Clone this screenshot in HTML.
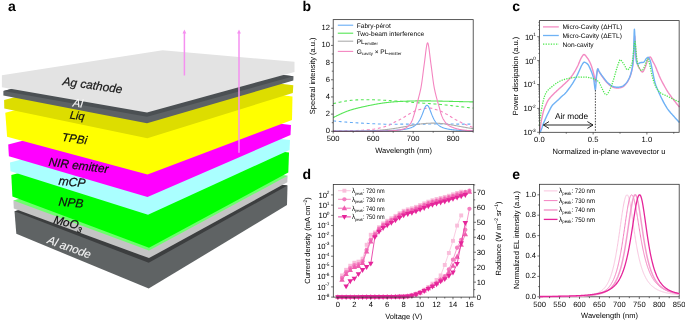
<!DOCTYPE html>
<html><head><meta charset="utf-8"><style>
html,body{margin:0;padding:0;background:#fff;}
svg{display:block;font-family:"Liberation Sans", sans-serif;will-change:transform;text-rendering:geometricPrecision;}
</style></head><body>
<svg xmlns="http://www.w3.org/2000/svg" width="685" height="320" viewBox="0 0 685 320">
<rect width="685" height="320" fill="#fff"/>
<polygon points="14.5,211.3 168.61,171.23 287.5,185.5 287,205 148.7,288.6 16.3,233.8" fill="#5f6364"/>
<polygon points="14.5,211.3 168.61,171.23 287.5,185.5 148.7,262.8" fill="#3c3e3f"/>
<polygon points="13.4,200.6 165.25,161.12 287.6,175.8 287.3,182.3 149,258.1 13.8,208.6" fill="#c4c4c4"/>
<polygon points="13.4,200.6 165.25,161.12 287.6,175.8 149,250.5" fill="#6cff6c"/>
<polygon points="11.3,175 158.21,136.8 289,152.5 288.3,172.6 149,247.8 12.4,196.6" fill="#00ff00"/>
<polygon points="10,162.5 157.63,124.12 290,140 289.5,150 148,214.8 10.5,171.3" fill="#aaffff"/>
<polygon points="8.2,144.5 148.82,107.94 291,125 290.5,135 147.5,197 8.9,156.3" fill="#ff00ff"/>
<polygon points="5.3,112.8 138.89,78.07 292.5,96.5 292,120 147.5,174.5 7.1,136.8" fill="#ffff00"/>
<polygon points="4.1,100 134.11,66.2 293.3,85.3 292.8,93 147.3,138.3 4.3,108.5" fill="#dddd00"/>
<polygon points="3.4,91 133.69,57.12 293.5,76.3 293.3,80.5 147,123.2 3.4,95.5" fill="#5d6265"/>
<polygon points="3.4,91 133.69,57.12 293.5,76.3 147,116.8" fill="#4b5053"/>
<polygon points="1.9,75.3 162.6,50.2 294.5,61.8 294.5,72 147,112.5 1.9,87.3" fill="#e3e3e3"/>
<text transform="translate(62.2,85.1) rotate(7.9)" font-size="11.9" font-style="italic" fill="#1a1a1a" stroke="#1a1a1a" stroke-width="0.22">Ag cathode</text>
<text transform="translate(72.5,106.3) rotate(7.5)" font-size="11.2" font-style="italic" fill="#f8f8f8" stroke="#f8f8f8" stroke-width="0.12">Al</text>
<text transform="translate(69.4,118.5) rotate(7)" font-size="11" font-style="italic" fill="#111" stroke="#111" stroke-width="0.22">Liq</text>
<text transform="translate(61.6,140.7) rotate(8.5)" font-size="11.6" font-style="italic" fill="#111" stroke="#111" stroke-width="0.22">TPBi</text>
<text transform="translate(48.2,165.8) rotate(7)" font-size="11.9" font-style="italic" fill="#111" stroke="#111" stroke-width="0.22">NIR emitter</text>
<text transform="translate(58.2,184.8) rotate(5.5)" font-size="12.2" font-style="italic" fill="#111" stroke="#111" stroke-width="0.22">mCP</text>
<text transform="translate(58.2,205.5) rotate(5.5)" font-size="12.1" font-style="italic" fill="#111" stroke="#111" stroke-width="0.22">NPB</text>
<text transform="translate(52.9,223.2) rotate(13.5)" font-size="11.7" font-style="italic" fill="#111" stroke="#111" stroke-width="0.22">MoO<tspan font-size="7.8" dy="3.0">3</tspan></text>
<text transform="translate(46.4,243) rotate(20)" font-size="11.6" font-style="italic" fill="#f4f4f4" stroke="#f4f4f4" stroke-width="0.1">Al anode</text>
<line x1="184.4" y1="75.5" x2="184.4" y2="32" stroke="#f590f0" stroke-width="1.5"/>
<polygon points="184.4,29.6 182.5,33.4 186.3,33.4" fill="#f590f0"/>
<line x1="239" y1="152.8" x2="239" y2="32" stroke="#f590f0" stroke-width="1.5"/>
<polygon points="239,29.6 237.1,33.4 240.9,33.4" fill="#f590f0"/>
<text x="8" y="10.7" font-size="14" font-weight="bold">a</text>
<text x="302.6" y="10.5" font-size="14" font-weight="bold">b</text>
<path d="M333.2,103.64L333.6,103.55L334,103.46L334.4,103.36L334.8,103.27L335.2,103.18L335.6,103.09L336,103L336.4,102.91L336.8,102.82L337.2,102.73L337.6,102.64L338,102.55L338.4,102.46L338.8,102.37L339.2,102.29L339.6,102.2L340,102.12L340.4,102.03L340.8,101.95L341.2,101.87L341.6,101.79L342,101.71L342.4,101.63L342.8,101.55L343.2,101.48L343.6,101.4L344,101.33L344.4,101.26L344.8,101.19L345.2,101.12L345.6,101.05L346,100.99L346.4,100.93L346.8,100.86L347.2,100.81L347.6,100.75L348,100.69L348.4,100.64L348.8,100.59L349.2,100.54L349.6,100.49L350,100.44L350.4,100.4L350.8,100.35L351.2,100.31L351.6,100.27L352,100.23L352.4,100.2L352.8,100.16L353.2,100.13L353.6,100.1L354,100.07L354.4,100.04L354.8,100.01L355.2,99.98L355.6,99.96L356,99.93L356.4,99.91L356.8,99.89L357.2,99.87L357.6,99.85L358,99.83L358.4,99.82L358.8,99.8L359.2,99.79L359.6,99.78L360,99.76L360.4,99.75L360.8,99.74L361.2,99.73L361.6,99.73L362,99.72L362.4,99.71L362.8,99.71L363.2,99.7L363.6,99.7L364,99.69L364.4,99.69L364.8,99.69L365.2,99.69L365.6,99.69L366,99.69L366.4,99.69L366.8,99.69L367.2,99.69L367.6,99.7L368,99.7L368.4,99.7L368.8,99.71L369.2,99.71L369.6,99.72L370,99.72L370.4,99.73L370.8,99.74L371.2,99.74L371.6,99.75L372,99.76L372.4,99.77L372.8,99.78L373.2,99.79L373.6,99.8L374,99.81L374.4,99.82L374.8,99.84L375.2,99.85L375.6,99.86L376,99.88L376.4,99.89L376.8,99.91L377.2,99.92L377.6,99.94L378,99.95L378.4,99.97L378.8,99.99L379.2,100L379.6,100.02L380,100.04L380.4,100.06L380.8,100.08L381.2,100.09L381.6,100.11L382,100.13L382.4,100.15L382.8,100.18L383.2,100.2L383.6,100.22L384,100.24L384.4,100.26L384.8,100.28L385.2,100.31L385.6,100.33L386,100.35L386.4,100.38L386.8,100.4L387.2,100.42L387.6,100.45L388,100.47L388.4,100.5L388.8,100.52L389.2,100.55L389.6,100.57L390,100.6L390.4,100.63L390.8,100.65L391.2,100.68L391.6,100.71L392,100.73L392.4,100.76L392.8,100.79L393.2,100.81L393.6,100.84L394,100.87L394.4,100.9L394.8,100.93L395.2,100.96L395.6,100.99L396,101.02L396.4,101.04L396.8,101.07L397.2,101.1L397.6,101.13L398,101.17L398.4,101.2L398.8,101.23L399.2,101.26L399.6,101.29L400,101.32L400.4,101.35L400.8,101.38L401.2,101.42L401.6,101.45L402,101.48L402.4,101.51L402.8,101.55L403.2,101.58L403.6,101.61L404,101.65L404.4,101.68L404.8,101.71L405.2,101.75L405.6,101.78L406,101.81L406.4,101.85L406.8,101.88L407.2,101.91L407.6,101.95L408,101.98L408.4,102.02L408.8,102.05L409.2,102.08L409.6,102.12L410,102.15L410.4,102.18L410.8,102.22L411.2,102.25L411.6,102.29L412,102.32L412.4,102.35L412.8,102.39L413.2,102.42L413.6,102.45L414,102.48L414.4,102.52L414.8,102.55L415.2,102.58L415.6,102.61L416,102.65L416.4,102.68L416.8,102.71L417.2,102.74L417.6,102.77L418,102.8L418.4,102.83L418.8,102.86L419.2,102.89L419.6,102.92L420,102.95L420.4,102.98L420.8,103.01L421.2,103.04L421.6,103.07L422,103.1L422.4,103.12L422.8,103.15L423.2,103.18L423.6,103.21L424,103.23L424.4,103.26L424.8,103.29L425.2,103.32L425.6,103.34L426,103.37L426.4,103.4L426.8,103.42L427.2,103.45L427.6,103.48L428,103.5L428.4,103.53L428.8,103.56L429.2,103.58L429.6,103.61L430,103.64L430.4,103.67L430.8,103.69L431.2,103.72L431.6,103.75L432,103.78L432.4,103.81L432.8,103.83L433.2,103.86L433.6,103.89L434,103.92L434.4,103.95L434.8,103.98L435.2,104.01L435.6,104.04L436,104.07L436.4,104.11L436.8,104.14L437.2,104.17L437.6,104.2L438,104.24L438.4,104.27L438.8,104.31L439.2,104.34L439.6,104.38L440,104.41L440.4,104.45L440.8,104.49L441.2,104.53L441.6,104.56L442,104.6L442.4,104.64L442.8,104.68L443.2,104.72L443.6,104.76L444,104.8L444.4,104.85L444.8,104.89L445.2,104.93L445.6,104.97L446,105.02L446.4,105.06L446.8,105.11L447.2,105.15L447.6,105.19L448,105.24L448.4,105.28L448.8,105.33L449.2,105.38L449.6,105.42L450,105.47L450.4,105.51L450.8,105.56L451.2,105.61L451.6,105.65L452,105.7L452.4,105.75L452.8,105.8L453.2,105.84L453.6,105.89L454,105.94L454.4,105.99L454.8,106.03L455.2,106.08L455.6,106.13L456,106.18L456.4,106.22L456.8,106.27L457.2,106.32L457.6,106.37L458,106.41L458.4,106.46L458.8,106.51L459.2,106.55L459.6,106.6L460,106.65L460.4,106.69L460.8,106.74L461.2,106.78L461.6,106.83L462,106.88L462.4,106.92L462.8,106.97L463.2,107.01L463.6,107.06L464,107.1L464.4,107.15L464.8,107.19L465.2,107.24L465.6,107.28L466,107.32L466.4,107.37L466.8,107.41L467.2,107.46L467.6,107.5L468,107.54L468.4,107.59L468.8,107.63L469.2,107.67L469.6,107.72L470,107.76L470.4,107.8L470.8,107.85L471.2,107.89L471.6,107.93L472,107.98L472.4,108.02L472.8,108.06L473.2,108.11" fill="none" stroke="#55e655" stroke-width="1.1" stroke-dasharray="2.9,2.7" stroke-linejoin="round" />
<path d="M333.2,120.91L333.6,120.95L334,120.99L334.4,121.02L334.8,121.06L335.2,121.1L335.6,121.14L336,121.18L336.4,121.22L336.8,121.26L337.2,121.3L337.6,121.34L338,121.38L338.4,121.41L338.8,121.45L339.2,121.49L339.6,121.53L340,121.57L340.4,121.6L340.8,121.64L341.2,121.68L341.6,121.72L342,121.75L342.4,121.79L342.8,121.82L343.2,121.86L343.6,121.89L344,121.93L344.4,121.96L344.8,122L345.2,122.03L345.6,122.07L346,122.1L346.4,122.13L346.8,122.16L347.2,122.19L347.6,122.23L348,122.26L348.4,122.29L348.8,122.32L349.2,122.35L349.6,122.38L350,122.4L350.4,122.43L350.8,122.46L351.2,122.49L351.6,122.52L352,122.54L352.4,122.57L352.8,122.59L353.2,122.62L353.6,122.65L354,122.67L354.4,122.7L354.8,122.72L355.2,122.75L355.6,122.77L356,122.79L356.4,122.82L356.8,122.84L357.2,122.87L357.6,122.89L358,122.91L358.4,122.93L358.8,122.96L359.2,122.98L359.6,123L360,123.03L360.4,123.05L360.8,123.07L361.2,123.09L361.6,123.11L362,123.14L362.4,123.16L362.8,123.18L363.2,123.2L363.6,123.22L364,123.25L364.4,123.27L364.8,123.29L365.2,123.31L365.6,123.33L366,123.36L366.4,123.38L366.8,123.4L367.2,123.42L367.6,123.44L368,123.47L368.4,123.49L368.8,123.51L369.2,123.53L369.6,123.55L370,123.57L370.4,123.6L370.8,123.62L371.2,123.64L371.6,123.66L372,123.68L372.4,123.7L372.8,123.72L373.2,123.74L373.6,123.76L374,123.78L374.4,123.8L374.8,123.82L375.2,123.84L375.6,123.86L376,123.88L376.4,123.9L376.8,123.91L377.2,123.93L377.6,123.95L378,123.97L378.4,123.98L378.8,124L379.2,124.01L379.6,124.03L380,124.05L380.4,124.06L380.8,124.07L381.2,124.09L381.6,124.1L382,124.12L382.4,124.13L382.8,124.14L383.2,124.15L383.6,124.16L384,124.17L384.4,124.18L384.8,124.19L385.2,124.2L385.6,124.21L386,124.22L386.4,124.22L386.8,124.23L387.2,124.24L387.6,124.24L388,124.25L388.4,124.25L388.8,124.25L389.2,124.26L389.6,124.26L390,124.26L390.4,124.26L390.8,124.26L391.2,124.26L391.6,124.26L392,124.26L392.4,124.25L392.8,124.25L393.2,124.25L393.6,124.25L394,124.24L394.4,124.24L394.8,124.23L395.2,124.23L395.6,124.23L396,124.22L396.4,124.22L396.8,124.21L397.2,124.21L397.6,124.2L398,124.2L398.4,124.19L398.8,124.19L399.2,124.18L399.6,124.18L400,124.17L400.4,124.17L400.8,124.16L401.2,124.16L401.6,124.15L402,124.15L402.4,124.15L402.8,124.14L403.2,124.14L403.6,124.14L404,124.13L404.4,124.13L404.8,124.13L405.2,124.12L405.6,124.12L406,124.12L406.4,124.12L406.8,124.11L407.2,124.11L407.6,124.11L408,124.11L408.4,124.11L408.8,124.1L409.2,124.1L409.6,124.1L410,124.1L410.4,124.1L410.8,124.1L411.2,124.1L411.6,124.09L412,124.09L412.4,124.09L412.8,124.09L413.2,124.09L413.6,124.09L414,124.09L414.4,124.09L414.8,124.09L415.2,124.09L415.6,124.09L416,124.09L416.4,124.09L416.8,124.09L417.2,124.08L417.6,124.08L418,124.08L418.4,124.08L418.8,124.08L419.2,124.08L419.6,124.08L420,124.08L420.4,124.08L420.8,124.08L421.2,124.08L421.6,124.08L422,124.08L422.4,124.08L422.8,124.08L423.2,124.08L423.6,124.08L424,124.08L424.4,124.08L424.8,124.08L425.2,124.08L425.6,124.08L426,124.08L426.4,124.08L426.8,124.08L427.2,124.08L427.6,124.08L428,124.08L428.4,124.08L428.8,124.07L429.2,124.07L429.6,124.07L430,124.07L430.4,124.07L430.8,124.07L431.2,124.07L431.6,124.07L432,124.07L432.4,124.07L432.8,124.07L433.2,124.07L433.6,124.07L434,124.07L434.4,124.07L434.8,124.07L435.2,124.07L435.6,124.07L436,124.07L436.4,124.07L436.8,124.07L437.2,124.07L437.6,124.07L438,124.07L438.4,124.07L438.8,124.07L439.2,124.07L439.6,124.07L440,124.07L440.4,124.07L440.8,124.07L441.2,124.07L441.6,124.07L442,124.07L442.4,124.07L442.8,124.07L443.2,124.07L443.6,124.07L444,124.07L444.4,124.07L444.8,124.07L445.2,124.07L445.6,124.07L446,124.07L446.4,124.07L446.8,124.07L447.2,124.07L447.6,124.07L448,124.07L448.4,124.07L448.8,124.07L449.2,124.07L449.6,124.07L450,124.07L450.4,124.07L450.8,124.07L451.2,124.07L451.6,124.07L452,124.07L452.4,124.07L452.8,124.07L453.2,124.07L453.6,124.07L454,124.07L454.4,124.07L454.8,124.07L455.2,124.07L455.6,124.07L456,124.08L456.4,124.08L456.8,124.08L457.2,124.08L457.6,124.08L458,124.08L458.4,124.08L458.8,124.08L459.2,124.08L459.6,124.08L460,124.08L460.4,124.08L460.8,124.08L461.2,124.08L461.6,124.08L462,124.08L462.4,124.08L462.8,124.08L463.2,124.08L463.6,124.08L464,124.08L464.4,124.08L464.8,124.08L465.2,124.08L465.6,124.08L466,124.08L466.4,124.08L466.8,124.08L467.2,124.08L467.6,124.08L468,124.08L468.4,124.08L468.8,124.08L469.2,124.08L469.6,124.08L470,124.08L470.4,124.08L470.8,124.08L471.2,124.08L471.6,124.08L472,124.08L472.4,124.08L472.8,124.08L473.2,124.08" fill="none" stroke="#67acf5" stroke-width="1.1" stroke-dasharray="2.9,2.7" stroke-linejoin="round" />
<path d="M333.2,130.78L333.6,130.78L334,130.78L334.4,130.78L334.8,130.78L335.2,130.78L335.6,130.78L336,130.78L336.4,130.78L336.8,130.78L337.2,130.77L337.6,130.77L338,130.77L338.4,130.77L338.8,130.76L339.2,130.76L339.6,130.76L340,130.75L340.4,130.75L340.8,130.74L341.2,130.74L341.6,130.74L342,130.73L342.4,130.73L342.8,130.72L343.2,130.72L343.6,130.71L344,130.71L344.4,130.7L344.8,130.69L345.2,130.69L345.6,130.68L346,130.68L346.4,130.67L346.8,130.66L347.2,130.66L347.6,130.65L348,130.64L348.4,130.63L348.8,130.63L349.2,130.62L349.6,130.61L350,130.6L350.4,130.6L350.8,130.59L351.2,130.58L351.6,130.57L352,130.56L352.4,130.55L352.8,130.55L353.2,130.54L353.6,130.53L354,130.52L354.4,130.51L354.8,130.5L355.2,130.49L355.6,130.48L356,130.47L356.4,130.46L356.8,130.45L357.2,130.44L357.6,130.43L358,130.42L358.4,130.41L358.8,130.39L359.2,130.38L359.6,130.36L360,130.34L360.4,130.32L360.8,130.3L361.2,130.28L361.6,130.26L362,130.24L362.4,130.21L362.8,130.19L363.2,130.16L363.6,130.14L364,130.11L364.4,130.08L364.8,130.05L365.2,130.02L365.6,129.99L366,129.96L366.4,129.92L366.8,129.89L367.2,129.85L367.6,129.82L368,129.78L368.4,129.75L368.8,129.71L369.2,129.67L369.6,129.63L370,129.59L370.4,129.55L370.8,129.5L371.2,129.46L371.6,129.42L372,129.37L372.4,129.33L372.8,129.28L373.2,129.24L373.6,129.19L374,129.14L374.4,129.08L374.8,129.01L375.2,128.95L375.6,128.87L376,128.8L376.4,128.72L376.8,128.64L377.2,128.55L377.6,128.47L378,128.38L378.4,128.28L378.8,128.19L379.2,128.1L379.6,128L380,127.9L380.4,127.8L380.8,127.7L381.2,127.61L381.6,127.51L382,127.41L382.4,127.3L382.8,127.2L383.2,127.09L383.6,126.98L384,126.87L384.4,126.75L384.8,126.64L385.2,126.52L385.6,126.39L386,126.27L386.4,126.13L386.8,126L387.2,125.86L387.6,125.72L388,125.58L388.4,125.43L388.8,125.27L389.2,125.12L389.6,124.95L390,124.76L390.4,124.57L390.8,124.36L391.2,124.14L391.6,123.91L392,123.68L392.4,123.45L392.8,123.21L393.2,122.97L393.6,122.74L394,122.5L394.4,122.28L394.8,122.06L395.2,121.85L395.6,121.65L396,121.46L396.4,121.27L396.8,121.08L397.2,120.89L397.6,120.71L398,120.53L398.4,120.34L398.8,120.15L399.2,119.96L399.6,119.76L400,119.55L400.4,119.34L400.8,119.12L401.2,118.89L401.6,118.65L402,118.41L402.4,118.17L402.8,117.92L403.2,117.67L403.6,117.42L404,117.18L404.4,116.93L404.8,116.68L405.2,116.44L405.6,116.2L406,115.95L406.4,115.71L406.8,115.46L407.2,115.21L407.6,114.96L408,114.72L408.4,114.47L408.8,114.23L409.2,114L409.6,113.77L410,113.54L410.4,113.32L410.8,113.1L411.2,112.89L411.6,112.67L412,112.45L412.4,112.24L412.8,112.03L413.2,111.83L413.6,111.64L414,111.45L414.4,111.27L414.8,111.1L415.2,110.94L415.6,110.79L416,110.65L416.4,110.51L416.8,110.37L417.2,110.24L417.6,110.12L418,109.99L418.4,109.88L418.8,109.76L419.2,109.65L419.6,109.55L420,109.45L420.4,109.35L420.8,109.24L421.2,109.14L421.6,109.04L422,108.94L422.4,108.85L422.8,108.75L423.2,108.67L423.6,108.59L424,108.52L424.4,108.46L424.8,108.4L425.2,108.36L425.6,108.33L426,108.3L426.4,108.27L426.8,108.24L427.2,108.21L427.6,108.19L428,108.17L428.4,108.15L428.8,108.13L429.2,108.12L429.6,108.11L430,108.11L430.4,108.11L430.8,108.14L431.2,108.2L431.6,108.27L432,108.37L432.4,108.48L432.8,108.61L433.2,108.74L433.6,108.88L434,109.01L434.4,109.15L434.8,109.28L435.2,109.4L435.6,109.51L436,109.62L436.4,109.73L436.8,109.84L437.2,109.96L437.6,110.08L438,110.2L438.4,110.32L438.8,110.45L439.2,110.58L439.6,110.72L440,110.87L440.4,111.02L440.8,111.18L441.2,111.36L441.6,111.54L442,111.73L442.4,111.93L442.8,112.14L443.2,112.35L443.6,112.56L444,112.78L444.4,113L444.8,113.21L445.2,113.43L445.6,113.65L446,113.88L446.4,114.12L446.8,114.35L447.2,114.59L447.6,114.84L448,115.09L448.4,115.33L448.8,115.58L449.2,115.83L449.6,116.07L450,116.32L450.4,116.56L450.8,116.8L451.2,117.05L451.6,117.29L452,117.54L452.4,117.79L452.8,118.03L453.2,118.28L453.6,118.52L454,118.76L454.4,118.99L454.8,119.22L455.2,119.45L455.6,119.66L456,119.88L456.4,120.09L456.8,120.3L457.2,120.5L457.6,120.71L458,120.91L458.4,121.11L458.8,121.31L459.2,121.51L459.6,121.71L460,121.91L460.4,122.11L460.8,122.32L461.2,122.52L461.6,122.72L462,122.92L462.4,123.12L462.8,123.32L463.2,123.51L463.6,123.71L464,123.89L464.4,124.08L464.8,124.25L465.2,124.43L465.6,124.6L466,124.77L466.4,124.93L466.8,125.1L467.2,125.26L467.6,125.42L468,125.58L468.4,125.74L468.8,125.89L469.2,126.05L469.6,126.2L470,126.34L470.4,126.49L470.8,126.63L471.2,126.77L471.6,126.91L472,127.05L472.4,127.18L472.8,127.31L473.2,127.43" fill="none" stroke="#f485c0" stroke-width="1.1" stroke-dasharray="2.9,2.7" stroke-linejoin="round" />
<path d="M333.2,117.56L333.6,117.36L334,117.16L334.4,116.96L334.8,116.76L335.2,116.57L335.6,116.37L336,116.17L336.4,115.98L336.8,115.78L337.2,115.59L337.6,115.39L338,115.2L338.4,115.01L338.8,114.82L339.2,114.63L339.6,114.44L340,114.25L340.4,114.07L340.8,113.88L341.2,113.7L341.6,113.52L342,113.34L342.4,113.16L342.8,112.99L343.2,112.81L343.6,112.64L344,112.47L344.4,112.3L344.8,112.14L345.2,111.98L345.6,111.81L346,111.66L346.4,111.5L346.8,111.35L347.2,111.2L347.6,111.05L348,110.91L348.4,110.77L348.8,110.63L349.2,110.49L349.6,110.36L350,110.23L350.4,110.1L350.8,109.97L351.2,109.85L351.6,109.72L352,109.6L352.4,109.49L352.8,109.37L353.2,109.25L353.6,109.14L354,109.03L354.4,108.92L354.8,108.81L355.2,108.71L355.6,108.6L356,108.5L356.4,108.4L356.8,108.3L357.2,108.2L357.6,108.1L358,108L358.4,107.9L358.8,107.81L359.2,107.71L359.6,107.62L360,107.53L360.4,107.43L360.8,107.34L361.2,107.25L361.6,107.16L362,107.07L362.4,106.97L362.8,106.88L363.2,106.79L363.6,106.7L364,106.61L364.4,106.53L364.8,106.44L365.2,106.35L365.6,106.26L366,106.18L366.4,106.09L366.8,106L367.2,105.92L367.6,105.83L368,105.75L368.4,105.66L368.8,105.58L369.2,105.5L369.6,105.42L370,105.33L370.4,105.25L370.8,105.17L371.2,105.09L371.6,105.01L372,104.93L372.4,104.86L372.8,104.78L373.2,104.7L373.6,104.63L374,104.55L374.4,104.48L374.8,104.4L375.2,104.33L375.6,104.25L376,104.18L376.4,104.11L376.8,104.04L377.2,103.97L377.6,103.9L378,103.83L378.4,103.76L378.8,103.7L379.2,103.63L379.6,103.56L380,103.5L380.4,103.44L380.8,103.37L381.2,103.31L381.6,103.25L382,103.19L382.4,103.13L382.8,103.07L383.2,103.01L383.6,102.96L384,102.9L384.4,102.85L384.8,102.79L385.2,102.74L385.6,102.69L386,102.64L386.4,102.59L386.8,102.54L387.2,102.49L387.6,102.44L388,102.4L388.4,102.35L388.8,102.31L389.2,102.27L389.6,102.22L390,102.18L390.4,102.14L390.8,102.11L391.2,102.07L391.6,102.03L392,102L392.4,101.96L392.8,101.93L393.2,101.9L393.6,101.87L394,101.84L394.4,101.81L394.8,101.78L395.2,101.75L395.6,101.72L396,101.69L396.4,101.67L396.8,101.64L397.2,101.62L397.6,101.59L398,101.57L398.4,101.55L398.8,101.53L399.2,101.5L399.6,101.48L400,101.46L400.4,101.44L400.8,101.42L401.2,101.4L401.6,101.39L402,101.37L402.4,101.35L402.8,101.33L403.2,101.32L403.6,101.3L404,101.28L404.4,101.27L404.8,101.25L405.2,101.24L405.6,101.22L406,101.2L406.4,101.19L406.8,101.17L407.2,101.16L407.6,101.15L408,101.13L408.4,101.12L408.8,101.1L409.2,101.09L409.6,101.08L410,101.07L410.4,101.05L410.8,101.04L411.2,101.03L411.6,101.02L412,101.01L412.4,101L412.8,100.99L413.2,100.98L413.6,100.97L414,100.96L414.4,100.95L414.8,100.94L415.2,100.93L415.6,100.92L416,100.92L416.4,100.91L416.8,100.9L417.2,100.9L417.6,100.89L418,100.89L418.4,100.88L418.8,100.88L419.2,100.87L419.6,100.87L420,100.87L420.4,100.86L420.8,100.86L421.2,100.86L421.6,100.86L422,100.86L422.4,100.86L422.8,100.86L423.2,100.86L423.6,100.86L424,100.86L424.4,100.86L424.8,100.86L425.2,100.86L425.6,100.87L426,100.87L426.4,100.87L426.8,100.87L427.2,100.88L427.6,100.88L428,100.89L428.4,100.89L428.8,100.89L429.2,100.9L429.6,100.9L430,100.91L430.4,100.92L430.8,100.92L431.2,100.93L431.6,100.93L432,100.94L432.4,100.95L432.8,100.95L433.2,100.96L433.6,100.97L434,100.98L434.4,100.98L434.8,100.99L435.2,101L435.6,101.01L436,101.02L436.4,101.02L436.8,101.03L437.2,101.04L437.6,101.05L438,101.06L438.4,101.07L438.8,101.08L439.2,101.09L439.6,101.1L440,101.11L440.4,101.12L440.8,101.13L441.2,101.14L441.6,101.15L442,101.16L442.4,101.17L442.8,101.18L443.2,101.19L443.6,101.2L444,101.2L444.4,101.21L444.8,101.22L445.2,101.24L445.6,101.24L446,101.25L446.4,101.26L446.8,101.27L447.2,101.28L447.6,101.29L448,101.3L448.4,101.31L448.8,101.32L449.2,101.33L449.6,101.34L450,101.35L450.4,101.36L450.8,101.37L451.2,101.38L451.6,101.39L452,101.4L452.4,101.41L452.8,101.42L453.2,101.43L453.6,101.44L454,101.45L454.4,101.46L454.8,101.47L455.2,101.48L455.6,101.49L456,101.5L456.4,101.51L456.8,101.52L457.2,101.53L457.6,101.54L458,101.55L458.4,101.56L458.8,101.57L459.2,101.58L459.6,101.59L460,101.6L460.4,101.61L460.8,101.62L461.2,101.63L461.6,101.64L462,101.65L462.4,101.66L462.8,101.67L463.2,101.68L463.6,101.69L464,101.7L464.4,101.71L464.8,101.72L465.2,101.73L465.6,101.74L466,101.75L466.4,101.76L466.8,101.77L467.2,101.78L467.6,101.79L468,101.8L468.4,101.81L468.8,101.82L469.2,101.82L469.6,101.83L470,101.84L470.4,101.85L470.8,101.86L471.2,101.87L471.6,101.88L472,101.89L472.4,101.9L472.8,101.91L473.2,101.92" fill="none" stroke="#55e655" stroke-width="1.1" stroke-linejoin="round" />
<path d="M333.2,131.29L333.6,131.29L334,131.29L334.4,131.29L334.8,131.29L335.2,131.29L335.6,131.29L336,131.29L336.4,131.29L336.8,131.29L337.2,131.29L337.6,131.29L338,131.29L338.4,131.29L338.8,131.28L339.2,131.28L339.6,131.28L340,131.28L340.4,131.28L340.8,131.28L341.2,131.28L341.6,131.28L342,131.28L342.4,131.28L342.8,131.27L343.2,131.27L343.6,131.27L344,131.27L344.4,131.27L344.8,131.27L345.2,131.26L345.6,131.26L346,131.26L346.4,131.26L346.8,131.26L347.2,131.26L347.6,131.25L348,131.25L348.4,131.25L348.8,131.25L349.2,131.24L349.6,131.24L350,131.24L350.4,131.23L350.8,131.23L351.2,131.23L351.6,131.22L352,131.22L352.4,131.22L352.8,131.21L353.2,131.21L353.6,131.21L354,131.2L354.4,131.2L354.8,131.19L355.2,131.19L355.6,131.18L356,131.18L356.4,131.17L356.8,131.17L357.2,131.16L357.6,131.15L358,131.15L358.4,131.14L358.8,131.13L359.2,131.13L359.6,131.12L360,131.11L360.4,131.1L360.8,131.09L361.2,131.09L361.6,131.08L362,131.07L362.4,131.06L362.8,131.05L363.2,131.04L363.6,131.03L364,131.02L364.4,131.01L364.8,131L365.2,130.98L365.6,130.97L366,130.96L366.4,130.94L366.8,130.93L367.2,130.92L367.6,130.9L368,130.89L368.4,130.87L368.8,130.86L369.2,130.84L369.6,130.82L370,130.81L370.4,130.79L370.8,130.77L371.2,130.75L371.6,130.73L372,130.71L372.4,130.69L372.8,130.67L373.2,130.65L373.6,130.63L374,130.6L374.4,130.58L374.8,130.55L375.2,130.53L375.6,130.5L376,130.48L376.4,130.45L376.8,130.42L377.2,130.4L377.6,130.37L378,130.34L378.4,130.31L378.8,130.28L379.2,130.24L379.6,130.21L380,130.18L380.4,130.14L380.8,130.11L381.2,130.07L381.6,130.04L382,130L382.4,129.96L382.8,129.92L383.2,129.89L383.6,129.85L384,129.8L384.4,129.76L384.8,129.72L385.2,129.68L385.6,129.63L386,129.59L386.4,129.54L386.8,129.49L387.2,129.45L387.6,129.4L388,129.35L388.4,129.3L388.8,129.25L389.2,129.2L389.6,129.14L390,129.09L390.4,129.04L390.8,128.98L391.2,128.93L391.6,128.87L392,128.81L392.4,128.75L392.8,128.7L393.2,128.64L393.6,128.58L394,128.51L394.4,128.45L394.8,128.39L395.2,128.33L395.6,128.26L396,128.2L396.4,128.13L396.8,128.07L397.2,128L397.6,127.93L398,127.87L398.4,127.8L398.8,127.73L399.2,127.66L399.6,127.59L400,127.52L400.4,127.45L400.8,127.38L401.2,127.31L401.6,127.23L402,127.16L402.4,127.09L402.8,127.02L403.2,126.94L403.6,126.87L404,126.8L404.4,126.72L404.8,126.65L405.2,126.57L405.6,126.5L406,126.42L406.4,126.35L406.8,126.28L407.2,126.2L407.6,126.13L408,126.05L408.4,125.98L408.8,125.91L409.2,125.83L409.6,125.76L410,125.68L410.4,125.61L410.8,125.54L411.2,125.47L411.6,125.4L412,125.32L412.4,125.25L412.8,125.18L413.2,125.11L413.6,125.05L414,124.98L414.4,124.91L414.8,124.84L415.2,124.78L415.6,124.71L416,124.65L416.4,124.58L416.8,124.52L417.2,124.46L417.6,124.4L418,124.34L418.4,124.28L418.8,124.22L419.2,124.17L419.6,124.11L420,124.06L420.4,124.01L420.8,123.95L421.2,123.9L421.6,123.86L422,123.81L422.4,123.76L422.8,123.72L423.2,123.67L423.6,123.63L424,123.59L424.4,123.56L424.8,123.52L425.2,123.48L425.6,123.45L426,123.42L426.4,123.39L426.8,123.36L427.2,123.33L427.6,123.31L428,123.28L428.4,123.26L428.8,123.24L429.2,123.22L429.6,123.21L430,123.19L430.4,123.18L430.8,123.17L431.2,123.16L431.6,123.15L432,123.15L432.4,123.14L432.8,123.14L433.2,123.14L433.6,123.14L434,123.15L434.4,123.15L434.8,123.16L435.2,123.17L435.6,123.18L436,123.19L436.4,123.21L436.8,123.22L437.2,123.24L437.6,123.26L438,123.28L438.4,123.31L438.8,123.33L439.2,123.36L439.6,123.39L440,123.42L440.4,123.45L440.8,123.48L441.2,123.52L441.6,123.56L442,123.59L442.4,123.63L442.8,123.67L443.2,123.72L443.6,123.76L444,123.81L444.4,123.86L444.8,123.9L445.2,123.95L445.6,124.01L446,124.06L446.4,124.11L446.8,124.17L447.2,124.22L447.6,124.28L448,124.34L448.4,124.4L448.8,124.46L449.2,124.52L449.6,124.58L450,124.65L450.4,124.71L450.8,124.78L451.2,124.84L451.6,124.91L452,124.98L452.4,125.05L452.8,125.11L453.2,125.18L453.6,125.25L454,125.32L454.4,125.4L454.8,125.47L455.2,125.54L455.6,125.61L456,125.68L456.4,125.76L456.8,125.83L457.2,125.91L457.6,125.98L458,126.05L458.4,126.13L458.8,126.2L459.2,126.28L459.6,126.35L460,126.42L460.4,126.5L460.8,126.57L461.2,126.65L461.6,126.72L462,126.8L462.4,126.87L462.8,126.94L463.2,127.02L463.6,127.09L464,127.16L464.4,127.23L464.8,127.31L465.2,127.38L465.6,127.45L466,127.52L466.4,127.59L466.8,127.66L467.2,127.73L467.6,127.8L468,127.87L468.4,127.93L468.8,128L469.2,128.07L469.6,128.13L470,128.2L470.4,128.26L470.8,128.33L471.2,128.39L471.6,128.45L472,128.51L472.4,128.58L472.8,128.64L473.2,128.7" fill="none" stroke="#adadad" stroke-width="1.1" stroke-linejoin="round" />
<path d="M333.2,131.18L333.6,131.18L334,131.18L334.4,131.18L334.8,131.17L335.2,131.17L335.6,131.17L336,131.17L336.4,131.17L336.8,131.17L337.2,131.17L337.6,131.17L338,131.17L338.4,131.16L338.8,131.16L339.2,131.16L339.6,131.16L340,131.16L340.4,131.16L340.8,131.16L341.2,131.16L341.6,131.15L342,131.15L342.4,131.15L342.8,131.15L343.2,131.15L343.6,131.15L344,131.15L344.4,131.14L344.8,131.14L345.2,131.14L345.6,131.14L346,131.14L346.4,131.14L346.8,131.13L347.2,131.13L347.6,131.13L348,131.13L348.4,131.13L348.8,131.13L349.2,131.12L349.6,131.12L350,131.12L350.4,131.12L350.8,131.12L351.2,131.12L351.6,131.11L352,131.11L352.4,131.11L352.8,131.11L353.2,131.11L353.6,131.1L354,131.1L354.4,131.1L354.8,131.1L355.2,131.09L355.6,131.09L356,131.09L356.4,131.09L356.8,131.08L357.2,131.08L357.6,131.08L358,131.08L358.4,131.07L358.8,131.07L359.2,131.07L359.6,131.07L360,131.06L360.4,131.06L360.8,131.06L361.2,131.06L361.6,131.05L362,131.05L362.4,131.05L362.8,131.04L363.2,131.04L363.6,131.04L364,131.03L364.4,131.03L364.8,131.03L365.2,131.02L365.6,131.02L366,131.02L366.4,131.01L366.8,131.01L367.2,131L367.6,131L368,131L368.4,130.99L368.8,130.99L369.2,130.98L369.6,130.98L370,130.97L370.4,130.97L370.8,130.97L371.2,130.96L371.6,130.96L372,130.95L372.4,130.95L372.8,130.94L373.2,130.94L373.6,130.93L374,130.92L374.4,130.92L374.8,130.91L375.2,130.91L375.6,130.9L376,130.9L376.4,130.89L376.8,130.88L377.2,130.88L377.6,130.87L378,130.86L378.4,130.85L378.8,130.85L379.2,130.84L379.6,130.83L380,130.82L380.4,130.82L380.8,130.81L381.2,130.8L381.6,130.79L382,130.78L382.4,130.77L382.8,130.76L383.2,130.75L383.6,130.74L384,130.73L384.4,130.72L384.8,130.71L385.2,130.7L385.6,130.69L386,130.68L386.4,130.67L386.8,130.65L387.2,130.64L387.6,130.63L388,130.62L388.4,130.6L388.8,130.59L389.2,130.57L389.6,130.56L390,130.54L390.4,130.53L390.8,130.51L391.2,130.49L391.6,130.47L392,130.46L392.4,130.44L392.8,130.42L393.2,130.4L393.6,130.38L394,130.35L394.4,130.33L394.8,130.31L395.2,130.28L395.6,130.26L396,130.23L396.4,130.21L396.8,130.18L397.2,130.15L397.6,130.12L398,130.09L398.4,130.05L398.8,130.02L399.2,129.99L399.6,129.95L400,129.91L400.4,129.87L400.8,129.83L401.2,129.79L401.6,129.74L402,129.69L402.4,129.64L402.8,129.59L403.2,129.54L403.6,129.48L404,129.42L404.4,129.36L404.8,129.3L405.2,129.23L405.6,129.16L406,129.08L406.4,129L406.8,128.92L407.2,128.83L407.6,128.74L408,128.64L408.4,128.54L408.8,128.43L409.2,128.31L409.6,128.19L410,128.06L410.4,127.92L410.8,127.77L411.2,127.62L411.6,127.45L412,127.28L412.4,127.09L412.8,126.89L413.2,126.68L413.6,126.45L414,126.21L414.4,125.94L414.8,125.66L415.2,125.36L415.6,125.04L416,124.7L416.4,124.32L416.8,123.92L417.2,123.49L417.6,123.03L418,122.53L418.4,121.99L418.8,121.41L419.2,120.79L419.6,120.13L420,119.41L420.4,118.64L420.8,117.83L421.2,116.96L421.6,116.05L422,115.08L422.4,114.08L422.8,113.05L423.2,111.99L423.6,110.93L424,109.89L424.4,108.89L424.8,107.95L425.2,107.1L425.6,106.38L426,105.81L426.4,105.41L426.8,105.21L427.2,105.21L427.6,105.41L428,105.81L428.4,106.38L428.8,107.1L429.2,107.95L429.6,108.89L430,109.89L430.4,110.93L430.8,111.99L431.2,113.05L431.6,114.08L432,115.08L432.4,116.05L432.8,116.96L433.2,117.83L433.6,118.64L434,119.41L434.4,120.13L434.8,120.79L435.2,121.41L435.6,121.99L436,122.53L436.4,123.03L436.8,123.49L437.2,123.92L437.6,124.32L438,124.7L438.4,125.04L438.8,125.36L439.2,125.66L439.6,125.94L440,126.21L440.4,126.45L440.8,126.68L441.2,126.89L441.6,127.09L442,127.28L442.4,127.45L442.8,127.62L443.2,127.77L443.6,127.92L444,128.06L444.4,128.19L444.8,128.31L445.2,128.43L445.6,128.54L446,128.64L446.4,128.74L446.8,128.83L447.2,128.92L447.6,129L448,129.08L448.4,129.16L448.8,129.23L449.2,129.3L449.6,129.36L450,129.42L450.4,129.48L450.8,129.54L451.2,129.59L451.6,129.64L452,129.69L452.4,129.74L452.8,129.79L453.2,129.83L453.6,129.87L454,129.91L454.4,129.95L454.8,129.99L455.2,130.02L455.6,130.05L456,130.09L456.4,130.12L456.8,130.15L457.2,130.18L457.6,130.21L458,130.23L458.4,130.26L458.8,130.28L459.2,130.31L459.6,130.33L460,130.35L460.4,130.38L460.8,130.4L461.2,130.42L461.6,130.44L462,130.46L462.4,130.47L462.8,130.49L463.2,130.51L463.6,130.53L464,130.54L464.4,130.56L464.8,130.57L465.2,130.59L465.6,130.6L466,130.62L466.4,130.63L466.8,130.64L467.2,130.65L467.6,130.67L468,130.68L468.4,130.69L468.8,130.7L469.2,130.71L469.6,130.72L470,130.73L470.4,130.74L470.8,130.75L471.2,130.76L471.6,130.77L472,130.78L472.4,130.79L472.8,130.8L473.2,130.81" fill="none" stroke="#67acf5" stroke-width="1.1" stroke-linejoin="round" />
<path d="M333.2,131.29L333.6,131.29L334,131.29L334.4,131.29L334.8,131.29L335.2,131.29L335.6,131.29L336,131.29L336.4,131.29L336.8,131.29L337.2,131.29L337.6,131.29L338,131.29L338.4,131.29L338.8,131.29L339.2,131.29L339.6,131.29L340,131.29L340.4,131.29L340.8,131.29L341.2,131.29L341.6,131.29L342,131.29L342.4,131.29L342.8,131.29L343.2,131.28L343.6,131.28L344,131.28L344.4,131.28L344.8,131.28L345.2,131.28L345.6,131.28L346,131.28L346.4,131.28L346.8,131.28L347.2,131.28L347.6,131.28L348,131.28L348.4,131.28L348.8,131.28L349.2,131.28L349.6,131.28L350,131.28L350.4,131.28L350.8,131.28L351.2,131.28L351.6,131.28L352,131.28L352.4,131.27L352.8,131.27L353.2,131.27L353.6,131.27L354,131.27L354.4,131.27L354.8,131.27L355.2,131.27L355.6,131.27L356,131.27L356.4,131.27L356.8,131.27L357.2,131.27L357.6,131.26L358,131.26L358.4,131.26L358.8,131.26L359.2,131.26L359.6,131.26L360,131.26L360.4,131.26L360.8,131.26L361.2,131.26L361.6,131.25L362,131.25L362.4,131.25L362.8,131.25L363.2,131.25L363.6,131.25L364,131.25L364.4,131.25L364.8,131.24L365.2,131.24L365.6,131.24L366,131.24L366.4,131.24L366.8,131.24L367.2,131.23L367.6,131.23L368,131.23L368.4,131.23L368.8,131.23L369.2,131.22L369.6,131.22L370,131.22L370.4,131.22L370.8,131.21L371.2,131.21L371.6,131.21L372,131.21L372.4,131.2L372.8,131.2L373.2,131.2L373.6,131.19L374,131.19L374.4,131.19L374.8,131.18L375.2,131.18L375.6,131.18L376,131.17L376.4,131.17L376.8,131.16L377.2,131.16L377.6,131.15L378,131.15L378.4,131.14L378.8,131.14L379.2,131.13L379.6,131.13L380,131.12L380.4,131.12L380.8,131.11L381.2,131.1L381.6,131.1L382,131.09L382.4,131.08L382.8,131.07L383.2,131.06L383.6,131.05L384,131.04L384.4,131.03L384.8,131.02L385.2,131.01L385.6,131L386,130.99L386.4,130.98L386.8,130.97L387.2,130.95L387.6,130.94L388,130.92L388.4,130.91L388.8,130.89L389.2,130.87L389.6,130.86L390,130.84L390.4,130.82L390.8,130.8L391.2,130.77L391.6,130.75L392,130.73L392.4,130.7L392.8,130.67L393.2,130.64L393.6,130.62L394,130.58L394.4,130.55L394.8,130.52L395.2,130.48L395.6,130.44L396,130.4L396.4,130.36L396.8,130.31L397.2,130.26L397.6,130.21L398,130.16L398.4,130.1L398.8,130.04L399.2,129.98L399.6,129.91L400,129.84L400.4,129.76L400.8,129.68L401.2,129.59L401.6,129.5L402,129.4L402.4,129.29L402.8,129.18L403.2,129.05L403.6,128.92L404,128.77L404.4,128.62L404.8,128.45L405.2,128.27L405.6,128.06L406,127.83L406.4,127.58L406.8,127.3L407.2,126.99L407.6,126.66L408,126.3L408.4,125.93L408.8,125.53L409.2,125.1L409.6,124.65L410,124.16L410.4,123.62L410.8,123.03L411.2,122.37L411.6,121.63L412,120.75L412.4,119.75L412.8,118.64L413.2,117.42L413.6,116.14L414,114.85L414.4,113.53L414.8,112.15L415.2,110.73L415.6,109.27L416,107.79L416.4,106.27L416.8,104.73L417.2,103.17L417.6,101.6L418,100.04L418.4,98.51L418.8,96.98L419.2,95.44L419.6,93.86L420,92.21L420.4,90.45L420.8,88.53L421.2,86.39L421.6,83.96L422,81.23L422.4,78.27L422.8,75.14L423.2,71.95L423.6,68.81L424,65.85L424.4,63.02L424.8,59.91L425.2,56.62L425.6,53.3L426,50.11L426.4,47.25L426.8,44.93L427.2,43.38L427.6,42.82L428,43.38L428.4,44.93L428.8,47.25L429.2,50.11L429.6,53.3L430,56.62L430.4,59.91L430.8,63.02L431.2,65.85L431.6,68.81L432,71.95L432.4,75.14L432.8,78.27L433.2,81.23L433.6,83.96L434,86.39L434.4,88.53L434.8,90.48L435.2,92.27L435.6,93.96L436,95.56L436.4,97.1L436.8,98.6L437.2,100.09L437.6,101.56L438,102.98L438.4,104.35L438.8,105.72L439.2,107.1L439.6,108.51L440,110.03L440.4,111.55L440.8,112.99L441.2,114.29L441.6,115.4L442,116.4L442.4,117.31L442.8,118.14L443.2,118.92L443.6,119.63L444,120.3L444.4,120.93L444.8,121.53L445.2,122.09L445.6,122.63L446,123.12L446.4,123.59L446.8,124.01L447.2,124.4L447.6,124.75L448,125.06L448.4,125.34L448.8,125.6L449.2,125.84L449.6,126.06L450,126.27L450.4,126.46L450.8,126.64L451.2,126.81L451.6,126.98L452,127.14L452.4,127.29L452.8,127.44L453.2,127.59L453.6,127.74L454,127.88L454.4,128.02L454.8,128.15L455.2,128.28L455.6,128.41L456,128.53L456.4,128.65L456.8,128.76L457.2,128.87L457.6,128.97L458,129.07L458.4,129.16L458.8,129.25L459.2,129.34L459.6,129.42L460,129.5L460.4,129.58L460.8,129.65L461.2,129.72L461.6,129.78L462,129.85L462.4,129.91L462.8,129.96L463.2,130.02L463.6,130.07L464,130.12L464.4,130.17L464.8,130.21L465.2,130.25L465.6,130.3L466,130.34L466.4,130.38L466.8,130.41L467.2,130.45L467.6,130.49L468,130.52L468.4,130.55L468.8,130.58L469.2,130.61L469.6,130.64L470,130.67L470.4,130.7L470.8,130.73L471.2,130.75L471.6,130.78L472,130.8L472.4,130.83L472.8,130.85L473.2,130.87" fill="none" stroke="#f485c0" stroke-width="1.1" stroke-linejoin="round" />
<rect x="333.2" y="19.63" width="140" height="111.67" fill="none" stroke="#333" stroke-width="0.8"/>
<line x1="333.2" y1="131.3" x2="333.2" y2="133.5" stroke="#333" stroke-width="0.7"/>
<line x1="373.2" y1="131.3" x2="373.2" y2="133.5" stroke="#333" stroke-width="0.7"/>
<line x1="413.2" y1="131.3" x2="413.2" y2="133.5" stroke="#333" stroke-width="0.7"/>
<line x1="453.2" y1="131.3" x2="453.2" y2="133.5" stroke="#333" stroke-width="0.7"/>
<line x1="353.2" y1="131.3" x2="353.2" y2="132.7" stroke="#333" stroke-width="0.7"/>
<line x1="393.2" y1="131.3" x2="393.2" y2="132.7" stroke="#333" stroke-width="0.7"/>
<line x1="433.2" y1="131.3" x2="433.2" y2="132.7" stroke="#333" stroke-width="0.7"/>
<line x1="473.2" y1="131.3" x2="473.2" y2="132.7" stroke="#333" stroke-width="0.7"/>
<line x1="333.2" y1="131.3" x2="331" y2="131.3" stroke="#333" stroke-width="0.7"/>
<line x1="333.2" y1="114.12" x2="331" y2="114.12" stroke="#333" stroke-width="0.7"/>
<line x1="333.2" y1="96.94" x2="331" y2="96.94" stroke="#333" stroke-width="0.7"/>
<line x1="333.2" y1="79.76" x2="331" y2="79.76" stroke="#333" stroke-width="0.7"/>
<line x1="333.2" y1="62.58" x2="331" y2="62.58" stroke="#333" stroke-width="0.7"/>
<line x1="333.2" y1="45.4" x2="331" y2="45.4" stroke="#333" stroke-width="0.7"/>
<line x1="333.2" y1="28.22" x2="331" y2="28.22" stroke="#333" stroke-width="0.7"/>
<line x1="333.2" y1="122.71" x2="331.8" y2="122.71" stroke="#333" stroke-width="0.7"/>
<line x1="333.2" y1="105.53" x2="331.8" y2="105.53" stroke="#333" stroke-width="0.7"/>
<line x1="333.2" y1="88.35" x2="331.8" y2="88.35" stroke="#333" stroke-width="0.7"/>
<line x1="333.2" y1="71.17" x2="331.8" y2="71.17" stroke="#333" stroke-width="0.7"/>
<line x1="333.2" y1="53.99" x2="331.8" y2="53.99" stroke="#333" stroke-width="0.7"/>
<line x1="333.2" y1="36.81" x2="331.8" y2="36.81" stroke="#333" stroke-width="0.7"/>
<text x="330" y="133.3" font-size="7.6" text-anchor="end" fill="#000" >0</text>
<text x="330" y="116.12" font-size="7.6" text-anchor="end" fill="#000" >2</text>
<text x="330" y="98.94" font-size="7.6" text-anchor="end" fill="#000" >4</text>
<text x="330" y="81.76" font-size="7.6" text-anchor="end" fill="#000" >6</text>
<text x="330" y="64.58" font-size="7.6" text-anchor="end" fill="#000" >8</text>
<text x="330" y="47.4" font-size="7.6" text-anchor="end" fill="#000" >10</text>
<text x="330" y="30.22" font-size="7.6" text-anchor="end" fill="#000" >12</text>
<text x="333.2" y="141.3" font-size="7.6" text-anchor="middle" fill="#000" >500</text>
<text x="373.2" y="141.3" font-size="7.6" text-anchor="middle" fill="#000" >600</text>
<text x="413.2" y="141.3" font-size="7.6" text-anchor="middle" fill="#000" >700</text>
<text x="453.2" y="141.3" font-size="7.6" text-anchor="middle" fill="#000" >800</text>
<text x="403.7" y="153.4" font-size="7.5" text-anchor="middle" fill="#000" >Wavelength (nm)</text>
<text transform="translate(314.6,75.8) rotate(-90)" font-size="7.5" text-anchor="middle">Spectral intensity (a.u.)</text>
<line x1="337.8" y1="25.2" x2="353.2" y2="25.2" stroke="#67acf5" stroke-width="1.1"/>
<text x="356.7" y="27.6" font-size="6.6" text-anchor="start" fill="#000" >Fabry-p&#233;rot</text>
<line x1="337.8" y1="33.2" x2="353.2" y2="33.2" stroke="#55e655" stroke-width="1.1"/>
<text x="356.7" y="35.6" font-size="6.6" text-anchor="start" fill="#000" >Two-beam interference</text>
<line x1="337.8" y1="41.2" x2="353.2" y2="41.2" stroke="#adadad" stroke-width="1.1"/>
<text x="356.7" y="43.6" font-size="6.6" text-anchor="start" fill="#000" >PL<tspan font-size="4.3" dy="1.6">emitter</tspan></text>
<line x1="337.8" y1="51.4" x2="353.2" y2="51.4" stroke="#f485c0" stroke-width="1.1"/>
<text x="356.7" y="53.8" font-size="6.6" text-anchor="start" fill="#000" >G<tspan font-size="4.3" dy="1.6">cavity</tspan><tspan dy="-1.6"> &#215; PL</tspan><tspan font-size="4.3" dy="1.6">emitter</tspan></text>
<text x="512.3" y="10.6" font-size="14" font-weight="bold">c</text>
<path d="M540,131.5L540.01,131.26L540.03,130.97L540.06,130.62L540.1,130.22L540.15,129.79L540.19,129.32L540.25,128.82L540.3,128.3L540.36,127.71L540.44,127.01L540.53,126.23L540.63,125.4L540.74,124.54L540.86,123.66L540.98,122.81L541.1,122L541.23,121.21L541.38,120.41L541.55,119.61L541.72,118.81L541.89,118.02L542.07,117.25L542.24,116.51L542.4,115.8L542.55,115.12L542.69,114.47L542.83,113.85L542.97,113.23L543.11,112.63L543.26,112.02L543.42,111.42L543.6,110.8L543.79,110.18L544,109.56L544.22,108.95L544.46,108.34L544.7,107.72L544.96,107.09L545.23,106.45L545.5,105.8L545.78,105.13L546.08,104.43L546.39,103.71L546.72,102.99L547.06,102.27L547.42,101.56L547.8,100.87L548.2,100.2L548.64,99.54L549.15,98.86L549.69,98.19L550.25,97.53L550.81,96.9L551.35,96.31L551.86,95.77L552.3,95.3L552.68,94.9L553.02,94.54L553.33,94.23L553.63,93.93L553.93,93.63L554.25,93.33L554.6,92.99L555,92.6L555.47,92.16L556,91.66L556.58,91.13L557.19,90.57L557.83,90L558.47,89.42L559.1,88.85L559.7,88.3L560.29,87.76L560.88,87.23L561.46,86.7L562.05,86.17L562.64,85.63L563.22,85.1L563.81,84.55L564.4,84L565,83.44L565.6,82.88L566.21,82.31L566.82,81.73L567.42,81.15L568,80.57L568.57,79.99L569.1,79.4L569.61,78.81L570.11,78.21L570.6,77.61L571.07,77L571.53,76.39L571.97,75.79L572.39,75.19L572.8,74.6L573.19,74.01L573.57,73.43L573.94,72.84L574.29,72.26L574.63,71.69L574.97,71.12L575.29,70.55L575.6,70L575.89,69.47L576.16,68.98L576.42,68.51L576.67,68.04L576.92,67.55L577.19,67.03L577.48,66.45L577.8,65.8L578.17,64.99L578.58,63.99L579.04,62.87L579.51,61.7L579.98,60.53L580.45,59.45L580.89,58.52L581.3,57.8L581.67,57.21L582.02,56.63L582.35,56.07L582.68,55.57L583,55.13L583.32,54.8L583.65,54.58L584,54.5L584.36,54.57L584.71,54.78L585.07,55.09L585.44,55.49L585.82,55.95L586.2,56.45L586.59,56.98L587,57.5L587.43,58.06L587.88,58.71L588.35,59.44L588.83,60.24L589.31,61.11L589.79,62.03L590.25,62.99L590.7,64L591.15,65.14L591.62,66.47L592.09,67.93L592.55,69.45L592.99,70.98L593.39,72.46L593.73,73.82L594,75L594.22,76.12L594.41,77.3L594.59,78.47L594.74,79.57L594.89,80.54L595.03,81.31L595.16,81.82L595.3,82L595.43,81.83L595.56,81.37L595.68,80.67L595.79,79.81L595.91,78.84L596.03,77.85L596.16,76.88L596.3,76L596.46,75.08L596.64,74L596.83,72.84L597.03,71.69L597.24,70.65L597.43,69.79L597.62,69.21L597.8,69L597.96,69.07L598.11,69.26L598.26,69.54L598.4,69.89L598.54,70.28L598.69,70.67L598.84,71.06L599,71.4L599.17,71.71L599.34,72.03L599.52,72.35L599.7,72.67L599.89,73L600.09,73.33L600.29,73.66L600.5,74L600.72,74.34L600.95,74.69L601.19,75.04L601.44,75.4L601.69,75.76L601.96,76.14L602.22,76.51L602.5,76.9L602.79,77.3L603.09,77.72L603.4,78.16L603.72,78.6L604.04,79.04L604.36,79.48L604.68,79.9L605,80.3L605.31,80.69L605.62,81.08L605.94,81.46L606.25,81.83L606.56,82.19L606.88,82.54L607.19,82.88L607.5,83.2L607.81,83.51L608.12,83.81L608.44,84.1L608.75,84.38L609.06,84.65L609.38,84.91L609.69,85.16L610,85.4L610.31,85.63L610.62,85.86L610.94,86.08L611.25,86.3L611.56,86.5L611.88,86.69L612.19,86.85L612.5,87L612.81,87.13L613.12,87.25L613.44,87.37L613.75,87.48L614.06,87.58L614.38,87.66L614.69,87.74L615,87.8L615.31,87.85L615.62,87.91L615.94,87.96L616.25,88L616.56,88.04L616.88,88.07L617.19,88.09L617.5,88.1L617.81,88.09L618.12,88.07L618.44,88.04L618.75,88L619.06,87.96L619.38,87.91L619.69,87.85L620,87.8L620.31,87.74L620.62,87.67L620.94,87.58L621.25,87.49L621.56,87.38L621.88,87.27L622.19,87.14L622.5,87L622.81,86.84L623.12,86.64L623.44,86.42L623.75,86.16L624.06,85.89L624.38,85.61L624.69,85.31L625,85L625.32,84.67L625.64,84.32L625.96,83.93L626.28,83.53L626.6,83.11L626.91,82.67L627.21,82.24L627.5,81.8L627.77,81.36L628.04,80.92L628.3,80.47L628.55,80.01L628.79,79.53L629.03,79.04L629.27,78.53L629.5,78L629.73,77.45L629.95,76.88L630.17,76.3L630.38,75.69L630.59,75.06L630.8,74.4L631,73.71L631.2,73L631.4,72.26L631.6,71.49L631.8,70.68L631.99,69.84L632.18,68.96L632.36,68.02L632.54,67.04L632.7,66L632.86,64.9L633,63.73L633.15,62.49L633.28,61.17L633.42,59.77L633.55,58.28L633.68,56.69L633.8,55L633.92,52.85L634.03,50.07L634.14,46.95L634.25,43.76L634.36,40.79L634.47,38.32L634.58,36.63L634.7,36L634.83,36.52L634.96,37.91L635.1,39.96L635.24,42.43L635.38,45.1L635.52,47.74L635.66,50.11L635.8,52L635.93,53.53L636.05,54.99L636.17,56.39L636.29,57.71L636.42,58.96L636.56,60.15L636.72,61.26L636.9,62.3L637.13,63.3L637.43,64.26L637.77,65.2L638.15,66.08L638.54,66.9L638.94,67.65L639.33,68.32L639.7,68.9L640.05,69.44L640.4,69.98L640.75,70.5L641.1,70.98L641.45,71.39L641.8,71.71L642.15,71.92L642.5,72L642.85,71.87L643.2,71.51L643.55,70.96L643.9,70.27L644.25,69.48L644.6,68.65L644.95,67.8L645.3,67L645.66,66.11L646.02,65.03L646.39,63.85L646.75,62.63L647.11,61.46L647.46,60.41L647.79,59.57L648.1,59L648.39,58.61L648.66,58.24L648.91,57.9L649.16,57.6L649.41,57.35L649.66,57.16L649.92,57.04L650.2,57L650.5,57.13L650.82,57.49L651.15,58.02L651.49,58.67L651.83,59.39L652.17,60.12L652.49,60.8L652.8,61.4L653.08,61.9L653.34,62.35L653.58,62.78L653.82,63.22L654.07,63.68L654.34,64.2L654.65,64.8L655,65.5L655.43,66.43L655.93,67.63L656.5,69.06L657.13,70.66L657.81,72.36L658.52,74.11L659.25,75.84L660,77.5L660.8,79.18L661.69,80.96L662.65,82.81L663.64,84.67L664.65,86.5L665.65,88.24L666.6,89.86L667.5,91.3L668.34,92.59L669.17,93.8L669.98,94.93L670.76,96.01L671.54,97.05L672.3,98.05L673.06,99.03L673.8,100L674.54,100.96L675.26,101.9L675.98,102.81L676.68,103.7L677.38,104.57L678.06,105.41L678.74,106.22L679.4,107" fill="none" stroke="#f38cc3" stroke-width="1.4" stroke-linejoin="round" />
<path d="M540.3,132.3L540.41,131.98L540.51,131.67L540.61,131.36L540.71,131.07L540.81,130.79L540.91,130.51L541.01,130.25L541.1,130L541.19,129.77L541.27,129.57L541.35,129.38L541.43,129.2L541.51,129.01L541.6,128.8L541.7,128.57L541.8,128.3L541.92,127.97L542.04,127.57L542.18,127.11L542.33,126.62L542.48,126.09L542.65,125.56L542.82,125.02L543,124.5L543.2,123.98L543.41,123.44L543.65,122.89L543.9,122.33L544.15,121.77L544.4,121.21L544.66,120.65L544.9,120.1L545.13,119.56L545.36,119.03L545.59,118.51L545.82,117.98L546.05,117.46L546.29,116.92L546.54,116.37L546.8,115.8L547.08,115.21L547.37,114.6L547.68,113.98L548,113.35L548.32,112.71L548.65,112.07L548.97,111.43L549.3,110.8L549.62,110.16L549.94,109.51L550.27,108.85L550.59,108.19L550.93,107.55L551.27,106.93L551.63,106.34L552,105.8L552.4,105.3L552.82,104.82L553.26,104.37L553.71,103.93L554.17,103.51L554.63,103.1L555.07,102.7L555.5,102.3L555.91,101.91L556.32,101.54L556.72,101.19L557.12,100.83L557.51,100.48L557.91,100.13L558.3,99.77L558.7,99.4L559.11,99L559.52,98.59L559.93,98.16L560.35,97.73L560.76,97.31L561.16,96.9L561.54,96.53L561.9,96.2L562.23,95.92L562.54,95.67L562.83,95.46L563.11,95.25L563.4,95.03L563.7,94.8L564.03,94.52L564.4,94.2L564.81,93.8L565.27,93.31L565.76,92.74L566.29,92.12L566.83,91.45L567.38,90.74L567.94,90.02L568.5,89.3L569.07,88.54L569.68,87.71L570.31,86.82L570.95,85.91L571.58,84.98L572.19,84.06L572.77,83.16L573.3,82.3L573.79,81.48L574.26,80.68L574.72,79.9L575.15,79.12L575.58,78.35L575.99,77.57L576.4,76.79L576.8,76L577.2,75.18L577.6,74.34L578,73.49L578.39,72.63L578.76,71.79L579.13,70.98L579.47,70.21L579.8,69.5L580.11,68.82L580.4,68.16L580.67,67.51L580.94,66.89L581.2,66.3L581.46,65.75L581.72,65.25L582,64.8L582.28,64.37L582.55,63.92L582.82,63.49L583.1,63.08L583.38,62.73L583.67,62.45L583.98,62.27L584.3,62.2L584.65,62.24L585.03,62.35L585.42,62.53L585.83,62.75L586.25,63.02L586.68,63.33L587.09,63.66L587.5,64L587.9,64.43L588.31,65.01L588.72,65.7L589.13,66.49L589.53,67.34L589.93,68.23L590.32,69.12L590.7,70L591.08,70.87L591.45,71.77L591.83,72.7L592.2,73.67L592.56,74.67L592.89,75.73L593.21,76.84L593.5,78L593.77,79.42L594.02,81.18L594.26,83.13L594.49,85.09L594.71,86.9L594.92,88.4L595.11,89.42L595.3,89.8L595.47,89.39L595.63,88.27L595.78,86.63L595.92,84.65L596.06,82.51L596.2,80.41L596.35,78.51L596.5,77L596.66,75.69L596.82,74.31L596.98,72.94L597.15,71.65L597.32,70.52L597.48,69.61L597.64,69.02L597.8,68.8L597.95,68.86L598.1,69.03L598.25,69.29L598.39,69.61L598.53,69.96L598.68,70.33L598.84,70.68L599,71L599.17,71.3L599.34,71.6L599.52,71.9L599.7,72.21L599.89,72.53L600.09,72.85L600.29,73.17L600.5,73.5L600.72,73.83L600.95,74.17L601.19,74.51L601.44,74.85L601.69,75.2L601.96,75.56L602.22,75.93L602.5,76.3L602.79,76.69L603.09,77.1L603.4,77.52L603.72,77.94L604.04,78.37L604.36,78.79L604.68,79.2L605,79.6L605.31,79.99L605.62,80.37L605.94,80.76L606.25,81.13L606.56,81.5L606.88,81.85L607.19,82.18L607.5,82.5L607.81,82.8L608.12,83.09L608.44,83.36L608.75,83.63L609.06,83.88L609.38,84.13L609.69,84.37L610,84.6L610.31,84.83L610.62,85.06L610.94,85.28L611.25,85.49L611.56,85.7L611.88,85.89L612.19,86.05L612.5,86.2L612.81,86.33L613.12,86.45L613.44,86.57L613.75,86.68L614.06,86.78L614.38,86.86L614.69,86.94L615,87L615.31,87.05L615.62,87.11L615.94,87.16L616.25,87.2L616.56,87.24L616.88,87.27L617.19,87.29L617.5,87.3L617.81,87.29L618.12,87.27L618.44,87.24L618.75,87.2L619.06,87.16L619.38,87.11L619.69,87.05L620,87L620.31,86.94L620.62,86.87L620.94,86.78L621.25,86.69L621.56,86.58L621.88,86.46L622.19,86.34L622.5,86.2L622.81,86.04L623.12,85.86L623.44,85.64L623.75,85.4L624.06,85.15L624.38,84.88L624.69,84.59L625,84.3L625.32,83.99L625.64,83.64L625.96,83.27L626.28,82.88L626.6,82.47L626.91,82.05L627.21,81.62L627.5,81.2L627.77,80.78L628.04,80.35L628.3,79.91L628.55,79.46L628.79,79L629.03,78.52L629.27,78.02L629.5,77.5L629.73,76.95L629.96,76.38L630.18,75.78L630.4,75.16L630.61,74.52L630.81,73.86L631.01,73.19L631.2,72.5L631.38,71.81L631.56,71.13L631.73,70.43L631.89,69.71L632.05,68.95L632.21,68.14L632.36,67.26L632.5,66.3L632.64,65.26L632.77,64.14L632.9,62.93L633.02,61.61L633.14,60.17L633.26,58.6L633.38,56.88L633.5,55L633.62,52.39L633.73,48.78L633.84,44.57L633.95,40.19L634.06,36.05L634.17,32.58L634.28,30.19L634.4,29.3L634.52,29.99L634.64,31.84L634.76,34.55L634.89,37.81L635.01,41.3L635.14,44.72L635.27,47.76L635.4,50.1L635.53,52.01L635.66,53.93L635.8,55.78L635.93,57.51L636.07,59.06L636.21,60.37L636.35,61.37L636.5,62L636.65,62.41L636.79,62.79L636.93,63.13L637.08,63.43L637.23,63.67L637.4,63.85L637.59,63.96L637.8,64L638.05,63.95L638.35,63.8L638.7,63.6L639.07,63.36L639.45,63.12L639.85,62.89L640.23,62.71L640.6,62.6L640.96,62.55L641.32,62.51L641.68,62.48L642.05,62.46L642.42,62.43L642.78,62.4L643.14,62.36L643.5,62.3L643.86,62.11L644.24,61.73L644.61,61.22L644.98,60.62L645.34,60L645.69,59.42L646.01,58.94L646.3,58.6L646.56,58.36L646.8,58.13L647.03,57.91L647.24,57.71L647.45,57.54L647.66,57.41L647.88,57.33L648.1,57.3L648.33,57.36L648.57,57.53L648.8,57.8L649.04,58.15L649.28,58.55L649.52,59.01L649.76,59.5L650,60L650.23,60.59L650.45,61.33L650.67,62.22L650.89,63.22L651.12,64.31L651.36,65.49L651.62,66.72L651.9,68L652.21,69.43L652.54,71.09L652.89,72.92L653.27,74.86L653.67,76.85L654.09,78.83L654.53,80.73L655,82.5L655.5,84.14L656.04,85.73L656.62,87.27L657.23,88.79L657.88,90.3L658.55,91.83L659.26,93.39L660,95L660.8,96.72L661.69,98.55L662.65,100.43L663.64,102.32L664.65,104.16L665.65,105.89L666.6,107.46L667.5,108.8L668.34,109.96L669.17,111.02L669.98,112L670.76,112.92L671.54,113.79L672.3,114.63L673.06,115.46L673.8,116.3L674.54,117.14L675.26,117.96L675.98,118.77L676.68,119.55L677.38,120.32L678.06,121.07L678.74,121.8L679.4,122.5" fill="none" stroke="#6fb2f5" stroke-width="1.4" stroke-linejoin="round" />
<path d="M539.5,125.8L539.53,125.25L539.56,124.67L539.6,124.07L539.65,123.45L539.71,122.82L539.77,122.16L539.83,121.49L539.9,120.8L539.98,120.08L540.07,119.32L540.17,118.54L540.28,117.73L540.39,116.92L540.51,116.1L540.63,115.29L540.75,114.5L540.87,113.72L540.98,112.95L541.1,112.17L541.23,111.4L541.35,110.63L541.48,109.85L541.61,109.08L541.75,108.3L541.89,107.51L542.04,106.7L542.2,105.88L542.35,105.07L542.52,104.26L542.68,103.48L542.84,102.72L543,102L543.16,101.32L543.31,100.66L543.46,100.03L543.61,99.41L543.77,98.8L543.94,98.2L544.11,97.6L544.3,97L544.5,96.39L544.72,95.77L544.95,95.16L545.2,94.55L545.45,93.95L545.72,93.37L546.01,92.82L546.3,92.3L546.63,91.79L547,91.29L547.4,90.79L547.81,90.31L548.22,89.86L548.62,89.45L548.98,89.1L549.3,88.8L549.57,88.56L549.81,88.37L550.02,88.2L550.22,88.04L550.43,87.89L550.66,87.72L550.91,87.53L551.2,87.3L551.55,87.01L551.95,86.67L552.4,86.29L552.89,85.87L553.4,85.44L553.93,85.01L554.47,84.59L555,84.2L555.54,83.82L556.11,83.43L556.69,83.05L557.29,82.66L557.89,82.29L558.5,81.94L559.11,81.6L559.7,81.3L560.29,81.02L560.88,80.75L561.46,80.48L562.05,80.24L562.64,80L563.22,79.79L563.81,79.58L564.4,79.4L564.99,79.23L565.57,79.08L566.16,78.93L566.75,78.79L567.34,78.66L567.93,78.54L568.51,78.42L569.1,78.3L569.69,78.19L570.28,78.07L570.87,77.97L571.46,77.86L572.04,77.76L572.63,77.67L573.22,77.58L573.8,77.5L574.37,77.42L574.92,77.34L575.46,77.25L576,77.17L576.56,77.1L577.14,77.05L577.75,77.01L578.4,77L579.12,77L579.93,77L580.78,77L581.67,77L582.55,77L583.42,77L584.25,77L585,77L585.69,77.02L586.35,77.07L586.98,77.16L587.59,77.27L588.19,77.39L588.78,77.53L589.38,77.66L590,77.8L590.63,77.94L591.28,78.11L591.93,78.29L592.59,78.49L593.22,78.7L593.85,78.93L594.44,79.16L595,79.4L595.54,79.65L596.06,79.91L596.57,80.18L597.06,80.48L597.54,80.79L597.98,81.13L598.41,81.5L598.8,81.9L599.16,82.37L599.5,82.92L599.81,83.53L600.11,84.19L600.41,84.88L600.7,85.57L600.99,86.25L601.3,86.9L601.61,87.54L601.93,88.21L602.24,88.89L602.56,89.57L602.87,90.22L603.18,90.84L603.49,91.4L603.8,91.9L604.1,92.38L604.4,92.87L604.7,93.36L604.99,93.81L605.29,94.21L605.59,94.52L605.89,94.73L606.2,94.8L606.52,94.73L606.84,94.53L607.16,94.22L607.49,93.83L607.82,93.38L608.15,92.89L608.48,92.39L608.8,91.9L609.12,91.38L609.43,90.77L609.74,90.1L610.06,89.37L610.37,88.61L610.68,87.82L610.99,87.01L611.3,86.2L611.61,85.38L611.92,84.52L612.24,83.62L612.55,82.7L612.86,81.75L613.17,80.78L613.49,79.8L613.8,78.8L614.11,77.76L614.42,76.67L614.74,75.55L615.05,74.41L615.36,73.26L615.67,72.14L615.99,71.04L616.3,70L616.62,68.96L616.95,67.89L617.29,66.81L617.63,65.76L617.95,64.77L618.26,63.88L618.55,63.11L618.8,62.5L619.02,61.98L619.22,61.46L619.41,60.97L619.59,60.53L619.76,60.15L619.93,59.86L620.11,59.67L620.3,59.6L620.5,59.65L620.7,59.78L620.9,59.98L621.1,60.24L621.31,60.54L621.53,60.86L621.76,61.18L622,61.5L622.26,61.83L622.53,62.2L622.82,62.61L623.12,63.05L623.43,63.52L623.75,64L624.07,64.5L624.4,65L624.74,65.59L625.09,66.32L625.46,67.11L625.83,67.91L626.2,68.64L626.58,69.24L626.94,69.65L627.3,69.8L627.65,69.75L627.99,69.6L628.34,69.37L628.68,69.07L629.01,68.73L629.34,68.34L629.67,67.92L630,67.5L630.33,67.01L630.68,66.38L631.04,65.65L631.38,64.83L631.71,63.93L632.02,62.99L632.28,62L632.5,61L632.68,59.91L632.83,58.68L632.96,57.35L633.09,55.96L633.21,54.54L633.33,53.13L633.46,51.77L633.6,50.5L633.76,49.19L633.92,47.73L634.1,46.23L634.27,44.79L634.45,43.5L634.64,42.45L634.82,41.75L635,41.5L635.18,41.97L635.37,43.24L635.56,45.09L635.76,47.33L635.95,49.73L636.14,52.08L636.32,54.17L636.5,55.8L636.66,57.07L636.81,58.26L636.95,59.37L637.08,60.41L637.23,61.41L637.39,62.36L637.58,63.29L637.8,64.2L638.1,65.17L638.52,66.22L639,67.29L639.54,68.31L640.1,69.21L640.64,69.94L641.15,70.42L641.6,70.6L641.99,70.51L642.35,70.25L642.69,69.85L643.02,69.34L643.35,68.75L643.68,68.11L644.03,67.45L644.4,66.8L644.8,65.98L645.24,64.86L645.69,63.58L646.15,62.26L646.6,61.02L647.04,59.98L647.44,59.27L647.8,59L648.12,59.19L648.42,59.72L648.71,60.52L648.98,61.52L649.24,62.63L649.49,63.8L649.75,64.95L650,66L650.24,67.01L650.47,68.07L650.69,69.17L650.91,70.3L651.13,71.46L651.37,72.63L651.62,73.81L651.9,75L652.21,76.22L652.54,77.49L652.89,78.8L653.27,80.11L653.67,81.41L654.09,82.68L654.53,83.88L655,85L655.5,86.07L656.04,87.14L656.62,88.19L657.23,89.19L657.88,90.14L658.55,91.02L659.26,91.81L660,92.5L660.79,93.09L661.66,93.63L662.59,94.11L663.56,94.56L664.56,94.99L665.55,95.42L666.54,95.85L667.5,96.3L668.46,96.78L669.47,97.28L670.48,97.79L671.49,98.29L672.47,98.78L673.4,99.23L674.25,99.64L675,100L675.68,100.32L676.33,100.62L676.95,100.91L677.54,101.18L678.08,101.43L678.57,101.65L679.01,101.84L679.4,102" fill="none" stroke="#4be84b" stroke-width="1.25" stroke-dasharray="1.3,1.15" stroke-linejoin="round" />
<line x1="595.4" y1="90" x2="595.4" y2="132.3" stroke="#222" stroke-width="0.8" stroke-dasharray="1.6,1.2"/>
<line x1="543.5" y1="125.0" x2="593.0" y2="125.0" stroke="#111" stroke-width="0.9"/>
<polyline points="549.0,121.6 543.4,125.0 549.0,128.4" fill="none" stroke="#111" stroke-width="0.9"/>
<polyline points="587.4,121.6 593.0,125.0 587.4,128.4" fill="none" stroke="#111" stroke-width="0.9"/>
<text x="571.5" y="119" font-size="8.3" text-anchor="middle" fill="#000" >Air mode</text>
<rect x="539.4" y="20.6" width="139.75" height="111.7" fill="none" stroke="#333" stroke-width="0.8"/>
<line x1="539.4" y1="132.3" x2="539.4" y2="134.5" stroke="#333" stroke-width="0.7"/>
<line x1="593.15" y1="132.3" x2="593.15" y2="134.5" stroke="#333" stroke-width="0.7"/>
<line x1="646.9" y1="132.3" x2="646.9" y2="134.5" stroke="#333" stroke-width="0.7"/>
<line x1="566.27" y1="132.3" x2="566.27" y2="133.7" stroke="#333" stroke-width="0.7"/>
<line x1="620.02" y1="132.3" x2="620.02" y2="133.7" stroke="#333" stroke-width="0.7"/>
<line x1="673.77" y1="132.3" x2="673.77" y2="133.7" stroke="#333" stroke-width="0.7"/>
<line x1="539.4" y1="132.3" x2="537.2" y2="132.3" stroke="#333" stroke-width="0.7"/>
<line x1="539.4" y1="108.4" x2="537.2" y2="108.4" stroke="#333" stroke-width="0.7"/>
<line x1="539.4" y1="84.5" x2="537.2" y2="84.5" stroke="#333" stroke-width="0.7"/>
<line x1="539.4" y1="60.6" x2="537.2" y2="60.6" stroke="#333" stroke-width="0.7"/>
<line x1="539.4" y1="36.7" x2="537.2" y2="36.7" stroke="#333" stroke-width="0.7"/>
<line x1="539.4" y1="125.11" x2="538.2" y2="125.11" stroke="#333" stroke-width="0.5"/>
<line x1="539.4" y1="120.9" x2="538.2" y2="120.9" stroke="#333" stroke-width="0.5"/>
<line x1="539.4" y1="117.91" x2="538.2" y2="117.91" stroke="#333" stroke-width="0.5"/>
<line x1="539.4" y1="115.59" x2="538.2" y2="115.59" stroke="#333" stroke-width="0.5"/>
<line x1="539.4" y1="113.7" x2="538.2" y2="113.7" stroke="#333" stroke-width="0.5"/>
<line x1="539.4" y1="112.1" x2="538.2" y2="112.1" stroke="#333" stroke-width="0.5"/>
<line x1="539.4" y1="110.72" x2="538.2" y2="110.72" stroke="#333" stroke-width="0.5"/>
<line x1="539.4" y1="109.49" x2="538.2" y2="109.49" stroke="#333" stroke-width="0.5"/>
<line x1="539.4" y1="101.21" x2="538.2" y2="101.21" stroke="#333" stroke-width="0.5"/>
<line x1="539.4" y1="97" x2="538.2" y2="97" stroke="#333" stroke-width="0.5"/>
<line x1="539.4" y1="94.01" x2="538.2" y2="94.01" stroke="#333" stroke-width="0.5"/>
<line x1="539.4" y1="91.69" x2="538.2" y2="91.69" stroke="#333" stroke-width="0.5"/>
<line x1="539.4" y1="89.8" x2="538.2" y2="89.8" stroke="#333" stroke-width="0.5"/>
<line x1="539.4" y1="88.2" x2="538.2" y2="88.2" stroke="#333" stroke-width="0.5"/>
<line x1="539.4" y1="86.82" x2="538.2" y2="86.82" stroke="#333" stroke-width="0.5"/>
<line x1="539.4" y1="85.59" x2="538.2" y2="85.59" stroke="#333" stroke-width="0.5"/>
<line x1="539.4" y1="77.31" x2="538.2" y2="77.31" stroke="#333" stroke-width="0.5"/>
<line x1="539.4" y1="73.1" x2="538.2" y2="73.1" stroke="#333" stroke-width="0.5"/>
<line x1="539.4" y1="70.11" x2="538.2" y2="70.11" stroke="#333" stroke-width="0.5"/>
<line x1="539.4" y1="67.79" x2="538.2" y2="67.79" stroke="#333" stroke-width="0.5"/>
<line x1="539.4" y1="65.9" x2="538.2" y2="65.9" stroke="#333" stroke-width="0.5"/>
<line x1="539.4" y1="64.3" x2="538.2" y2="64.3" stroke="#333" stroke-width="0.5"/>
<line x1="539.4" y1="62.92" x2="538.2" y2="62.92" stroke="#333" stroke-width="0.5"/>
<line x1="539.4" y1="61.69" x2="538.2" y2="61.69" stroke="#333" stroke-width="0.5"/>
<line x1="539.4" y1="53.41" x2="538.2" y2="53.41" stroke="#333" stroke-width="0.5"/>
<line x1="539.4" y1="49.2" x2="538.2" y2="49.2" stroke="#333" stroke-width="0.5"/>
<line x1="539.4" y1="46.21" x2="538.2" y2="46.21" stroke="#333" stroke-width="0.5"/>
<line x1="539.4" y1="43.89" x2="538.2" y2="43.89" stroke="#333" stroke-width="0.5"/>
<line x1="539.4" y1="42" x2="538.2" y2="42" stroke="#333" stroke-width="0.5"/>
<line x1="539.4" y1="40.4" x2="538.2" y2="40.4" stroke="#333" stroke-width="0.5"/>
<line x1="539.4" y1="39.02" x2="538.2" y2="39.02" stroke="#333" stroke-width="0.5"/>
<line x1="539.4" y1="37.79" x2="538.2" y2="37.79" stroke="#333" stroke-width="0.5"/>
<line x1="539.4" y1="29.51" x2="538.2" y2="29.51" stroke="#333" stroke-width="0.5"/>
<line x1="539.4" y1="25.3" x2="538.2" y2="25.3" stroke="#333" stroke-width="0.5"/>
<line x1="539.4" y1="22.31" x2="538.2" y2="22.31" stroke="#333" stroke-width="0.5"/>
<text x="535.6" y="135.2" font-size="7.7" text-anchor="end" letter-spacing="-0.2">10<tspan font-size="4.8" dy="-3.3">-3</tspan></text>
<text x="535.6" y="111.3" font-size="7.7" text-anchor="end" letter-spacing="-0.2">10<tspan font-size="4.8" dy="-3.3">-2</tspan></text>
<text x="535.6" y="87.4" font-size="7.7" text-anchor="end" letter-spacing="-0.2">10<tspan font-size="4.8" dy="-3.3">-1</tspan></text>
<text x="535.6" y="63.5" font-size="7.7" text-anchor="end" letter-spacing="-0.2">10<tspan font-size="4.8" dy="-3.3">0</tspan></text>
<text x="535.6" y="39.6" font-size="7.7" text-anchor="end" letter-spacing="-0.2">10<tspan font-size="4.8" dy="-3.3">1</tspan></text>
<text x="539.4" y="142" font-size="7.6" text-anchor="middle" fill="#000" >0.0</text>
<text x="593.15" y="142" font-size="7.6" text-anchor="middle" fill="#000" >0.5</text>
<text x="646.9" y="142" font-size="7.6" text-anchor="middle" fill="#000" >1.0</text>
<text x="609" y="153.8" font-size="7.5" text-anchor="middle" fill="#000" >Normalized in-plane wavevector u</text>
<text transform="translate(517.8,76) rotate(-90)" font-size="7.5" text-anchor="middle">Power dissipation (a.u.)</text>
<line x1="543" y1="26.9" x2="558.8" y2="26.9" stroke="#f38cc3" stroke-width="1.3"/>
<text x="562.5" y="29.3" font-size="6.6" text-anchor="start" fill="#000" >Micro-Cavity (&#916;HTL)</text>
<line x1="543" y1="35.5" x2="558.8" y2="35.5" stroke="#6fb2f5" stroke-width="1.3"/>
<text x="562.5" y="37.9" font-size="6.6" text-anchor="start" fill="#000" >Micro-Cavity (&#916;ETL)</text>
<line x1="543" y1="44.1" x2="558.8" y2="44.1" stroke="#4be84b" stroke-width="1.3" stroke-dasharray="1.3,1.3"/>
<text x="562.5" y="46.5" font-size="6.6" text-anchor="start" fill="#000" >Non-cavity</text>
<text x="302.6" y="178.6" font-size="14" font-weight="bold">d</text>
<polyline points="342.01,275.43 346.12,269.81 350.23,265.72 354.34,262.76 358.45,261.64 362.56,258.67 366.67,244.77 370.78,234.76 374.89,232.51 379,227.22 383.11,223.4 387.22,220.76 391.33,218.25 395.44,215.84 399.55,213.2 403.66,210.79 407.77,209.38 411.88,208.29 415.99,206.83 420.1,205.09 424.21,203.37 428.32,201.66 432.43,200.23 436.54,199.03 440.65,197.92 444.76,196.88 448.87,195.73 452.98,194.34 457.09,192.98 461.2,191.71" fill="none" stroke="#f9bedb" stroke-width="0.8"/>
<rect x="340.06" y="273.48" width="3.9" height="3.9" fill="#f9bedb"/><rect x="344.17" y="267.86" width="3.9" height="3.9" fill="#f9bedb"/><rect x="348.28" y="263.77" width="3.9" height="3.9" fill="#f9bedb"/><rect x="352.39" y="260.81" width="3.9" height="3.9" fill="#f9bedb"/><rect x="356.5" y="259.69" width="3.9" height="3.9" fill="#f9bedb"/><rect x="360.61" y="256.72" width="3.9" height="3.9" fill="#f9bedb"/><rect x="364.72" y="242.82" width="3.9" height="3.9" fill="#f9bedb"/><rect x="368.83" y="232.81" width="3.9" height="3.9" fill="#f9bedb"/><rect x="372.94" y="230.56" width="3.9" height="3.9" fill="#f9bedb"/><rect x="377.05" y="225.27" width="3.9" height="3.9" fill="#f9bedb"/><rect x="381.16" y="221.45" width="3.9" height="3.9" fill="#f9bedb"/><rect x="385.27" y="218.81" width="3.9" height="3.9" fill="#f9bedb"/><rect x="389.38" y="216.3" width="3.9" height="3.9" fill="#f9bedb"/><rect x="393.49" y="213.89" width="3.9" height="3.9" fill="#f9bedb"/><rect x="397.6" y="211.25" width="3.9" height="3.9" fill="#f9bedb"/><rect x="401.71" y="208.84" width="3.9" height="3.9" fill="#f9bedb"/><rect x="405.82" y="207.43" width="3.9" height="3.9" fill="#f9bedb"/><rect x="409.93" y="206.34" width="3.9" height="3.9" fill="#f9bedb"/><rect x="414.04" y="204.88" width="3.9" height="3.9" fill="#f9bedb"/><rect x="418.15" y="203.14" width="3.9" height="3.9" fill="#f9bedb"/><rect x="422.26" y="201.42" width="3.9" height="3.9" fill="#f9bedb"/><rect x="426.37" y="199.71" width="3.9" height="3.9" fill="#f9bedb"/><rect x="430.48" y="198.28" width="3.9" height="3.9" fill="#f9bedb"/><rect x="434.59" y="197.08" width="3.9" height="3.9" fill="#f9bedb"/><rect x="438.7" y="195.97" width="3.9" height="3.9" fill="#f9bedb"/><rect x="442.81" y="194.93" width="3.9" height="3.9" fill="#f9bedb"/><rect x="446.92" y="193.78" width="3.9" height="3.9" fill="#f9bedb"/><rect x="451.03" y="192.39" width="3.9" height="3.9" fill="#f9bedb"/><rect x="455.14" y="191.03" width="3.9" height="3.9" fill="#f9bedb"/><rect x="459.25" y="189.76" width="3.9" height="3.9" fill="#f9bedb"/>
<polyline points="337.9,297.1 342.01,297.1 346.12,297.1 350.23,297.09 354.34,297.08 358.45,297.07 362.56,297.06 366.67,297.04 370.78,297.02 374.89,296.99 379,296.96 383.11,296.92 387.22,296.88 391.33,296.83 395.44,296.78 399.55,296.72 403.66,296.65 407.77,296.14 411.88,295.16 415.99,293.82 420.1,292.01 424.21,289.71 428.32,286.93 432.43,283.64 436.54,279.9 440.65,275.41 444.76,264.94 448.87,252.97 452.98,240.85 457.09,225.59 461.2,215.42" fill="none" stroke="#f9bedb" stroke-width="0.8"/>
<rect x="335.95" y="295.15" width="3.9" height="3.9" fill="#f9bedb"/><rect x="340.06" y="295.15" width="3.9" height="3.9" fill="#f9bedb"/><rect x="344.17" y="295.15" width="3.9" height="3.9" fill="#f9bedb"/><rect x="348.28" y="295.14" width="3.9" height="3.9" fill="#f9bedb"/><rect x="352.39" y="295.13" width="3.9" height="3.9" fill="#f9bedb"/><rect x="356.5" y="295.12" width="3.9" height="3.9" fill="#f9bedb"/><rect x="360.61" y="295.11" width="3.9" height="3.9" fill="#f9bedb"/><rect x="364.72" y="295.09" width="3.9" height="3.9" fill="#f9bedb"/><rect x="368.83" y="295.07" width="3.9" height="3.9" fill="#f9bedb"/><rect x="372.94" y="295.04" width="3.9" height="3.9" fill="#f9bedb"/><rect x="377.05" y="295.01" width="3.9" height="3.9" fill="#f9bedb"/><rect x="381.16" y="294.97" width="3.9" height="3.9" fill="#f9bedb"/><rect x="385.27" y="294.93" width="3.9" height="3.9" fill="#f9bedb"/><rect x="389.38" y="294.88" width="3.9" height="3.9" fill="#f9bedb"/><rect x="393.49" y="294.83" width="3.9" height="3.9" fill="#f9bedb"/><rect x="397.6" y="294.77" width="3.9" height="3.9" fill="#f9bedb"/><rect x="401.71" y="294.7" width="3.9" height="3.9" fill="#f9bedb"/><rect x="405.82" y="294.19" width="3.9" height="3.9" fill="#f9bedb"/><rect x="409.93" y="293.21" width="3.9" height="3.9" fill="#f9bedb"/><rect x="414.04" y="291.87" width="3.9" height="3.9" fill="#f9bedb"/><rect x="418.15" y="290.06" width="3.9" height="3.9" fill="#f9bedb"/><rect x="422.26" y="287.76" width="3.9" height="3.9" fill="#f9bedb"/><rect x="426.37" y="284.98" width="3.9" height="3.9" fill="#f9bedb"/><rect x="430.48" y="281.69" width="3.9" height="3.9" fill="#f9bedb"/><rect x="434.59" y="277.95" width="3.9" height="3.9" fill="#f9bedb"/><rect x="438.7" y="273.46" width="3.9" height="3.9" fill="#f9bedb"/><rect x="442.81" y="262.99" width="3.9" height="3.9" fill="#f9bedb"/><rect x="446.92" y="251.02" width="3.9" height="3.9" fill="#f9bedb"/><rect x="451.03" y="238.9" width="3.9" height="3.9" fill="#f9bedb"/><rect x="455.14" y="223.64" width="3.9" height="3.9" fill="#f9bedb"/><rect x="459.25" y="213.47" width="3.9" height="3.9" fill="#f9bedb"/>
<polyline points="342.01,277.89 346.12,272.27 350.23,268.18 354.34,265.21 358.45,264.09 362.56,261.13 366.67,249.78 370.78,239.77 374.89,234.04 379,228.75 383.11,224.93 387.22,222.29 391.33,219.79 395.44,217.37 399.55,214.74 403.66,212.32 407.77,210.91 411.88,209.83 415.99,208.36 420.1,206.62 424.21,204.9 428.32,203.19 432.43,201.77 436.54,200.57 440.65,199.45 444.76,198.42 448.87,197.26 452.98,195.87 457.09,194.51 461.2,193.25 465.31,191.99 469.42,190.71" fill="none" stroke="#f47fc0" stroke-width="0.8"/>
<circle cx="342.01" cy="277.89" r="2.15" fill="#f47fc0"/><circle cx="346.12" cy="272.27" r="2.15" fill="#f47fc0"/><circle cx="350.23" cy="268.18" r="2.15" fill="#f47fc0"/><circle cx="354.34" cy="265.21" r="2.15" fill="#f47fc0"/><circle cx="358.45" cy="264.09" r="2.15" fill="#f47fc0"/><circle cx="362.56" cy="261.13" r="2.15" fill="#f47fc0"/><circle cx="366.67" cy="249.78" r="2.15" fill="#f47fc0"/><circle cx="370.78" cy="239.77" r="2.15" fill="#f47fc0"/><circle cx="374.89" cy="234.04" r="2.15" fill="#f47fc0"/><circle cx="379" cy="228.75" r="2.15" fill="#f47fc0"/><circle cx="383.11" cy="224.93" r="2.15" fill="#f47fc0"/><circle cx="387.22" cy="222.29" r="2.15" fill="#f47fc0"/><circle cx="391.33" cy="219.79" r="2.15" fill="#f47fc0"/><circle cx="395.44" cy="217.37" r="2.15" fill="#f47fc0"/><circle cx="399.55" cy="214.74" r="2.15" fill="#f47fc0"/><circle cx="403.66" cy="212.32" r="2.15" fill="#f47fc0"/><circle cx="407.77" cy="210.91" r="2.15" fill="#f47fc0"/><circle cx="411.88" cy="209.83" r="2.15" fill="#f47fc0"/><circle cx="415.99" cy="208.36" r="2.15" fill="#f47fc0"/><circle cx="420.1" cy="206.62" r="2.15" fill="#f47fc0"/><circle cx="424.21" cy="204.9" r="2.15" fill="#f47fc0"/><circle cx="428.32" cy="203.19" r="2.15" fill="#f47fc0"/><circle cx="432.43" cy="201.77" r="2.15" fill="#f47fc0"/><circle cx="436.54" cy="200.57" r="2.15" fill="#f47fc0"/><circle cx="440.65" cy="199.45" r="2.15" fill="#f47fc0"/><circle cx="444.76" cy="198.42" r="2.15" fill="#f47fc0"/><circle cx="448.87" cy="197.26" r="2.15" fill="#f47fc0"/><circle cx="452.98" cy="195.87" r="2.15" fill="#f47fc0"/><circle cx="457.09" cy="194.51" r="2.15" fill="#f47fc0"/><circle cx="461.2" cy="193.25" r="2.15" fill="#f47fc0"/><circle cx="465.31" cy="191.99" r="2.15" fill="#f47fc0"/><circle cx="469.42" cy="190.71" r="2.15" fill="#f47fc0"/>
<polyline points="337.9,297.1 342.01,297.1 346.12,297.1 350.23,297.09 354.34,297.08 358.45,297.07 362.56,297.06 366.67,297.04 370.78,297.02 374.89,296.99 379,296.96 383.11,296.92 387.22,296.88 391.33,296.83 395.44,296.78 399.55,296.72 403.66,296.65 407.77,296.25 411.88,295.45 415.99,294.26 420.1,292.61 424.21,290.54 428.32,288.12 432.43,285.66 436.54,282.89 440.65,279.45 444.76,276.16 448.87,269.42 452.98,259.7 457.09,247.73 461.2,239.8 465.31,229.78 469.42,208.84" fill="none" stroke="#f47fc0" stroke-width="0.8"/>
<circle cx="337.9" cy="297.1" r="2.15" fill="#f47fc0"/><circle cx="342.01" cy="297.1" r="2.15" fill="#f47fc0"/><circle cx="346.12" cy="297.1" r="2.15" fill="#f47fc0"/><circle cx="350.23" cy="297.09" r="2.15" fill="#f47fc0"/><circle cx="354.34" cy="297.08" r="2.15" fill="#f47fc0"/><circle cx="358.45" cy="297.07" r="2.15" fill="#f47fc0"/><circle cx="362.56" cy="297.06" r="2.15" fill="#f47fc0"/><circle cx="366.67" cy="297.04" r="2.15" fill="#f47fc0"/><circle cx="370.78" cy="297.02" r="2.15" fill="#f47fc0"/><circle cx="374.89" cy="296.99" r="2.15" fill="#f47fc0"/><circle cx="379" cy="296.96" r="2.15" fill="#f47fc0"/><circle cx="383.11" cy="296.92" r="2.15" fill="#f47fc0"/><circle cx="387.22" cy="296.88" r="2.15" fill="#f47fc0"/><circle cx="391.33" cy="296.83" r="2.15" fill="#f47fc0"/><circle cx="395.44" cy="296.78" r="2.15" fill="#f47fc0"/><circle cx="399.55" cy="296.72" r="2.15" fill="#f47fc0"/><circle cx="403.66" cy="296.65" r="2.15" fill="#f47fc0"/><circle cx="407.77" cy="296.25" r="2.15" fill="#f47fc0"/><circle cx="411.88" cy="295.45" r="2.15" fill="#f47fc0"/><circle cx="415.99" cy="294.26" r="2.15" fill="#f47fc0"/><circle cx="420.1" cy="292.61" r="2.15" fill="#f47fc0"/><circle cx="424.21" cy="290.54" r="2.15" fill="#f47fc0"/><circle cx="428.32" cy="288.12" r="2.15" fill="#f47fc0"/><circle cx="432.43" cy="285.66" r="2.15" fill="#f47fc0"/><circle cx="436.54" cy="282.89" r="2.15" fill="#f47fc0"/><circle cx="440.65" cy="279.45" r="2.15" fill="#f47fc0"/><circle cx="444.76" cy="276.16" r="2.15" fill="#f47fc0"/><circle cx="448.87" cy="269.42" r="2.15" fill="#f47fc0"/><circle cx="452.98" cy="259.7" r="2.15" fill="#f47fc0"/><circle cx="457.09" cy="247.73" r="2.15" fill="#f47fc0"/><circle cx="461.2" cy="239.8" r="2.15" fill="#f47fc0"/><circle cx="465.31" cy="229.78" r="2.15" fill="#f47fc0"/><circle cx="469.42" cy="208.84" r="2.15" fill="#f47fc0"/>
<polyline points="342.01,279.73 346.12,274.11 350.23,270.02 354.34,267.05 358.45,265.93 362.56,262.97 366.67,251.62 370.78,241.61 374.89,235.06 379,229.78 383.11,225.95 387.22,223.31 391.33,220.81 395.44,218.39 399.55,215.76 403.66,213.34 407.77,211.93 411.88,210.85 415.99,209.38 420.1,207.64 424.21,205.92 428.32,204.21 432.43,202.79 436.54,201.59 440.65,200.47 444.76,199.44 448.87,198.28 452.98,196.9 457.09,195.53 461.2,194.27 465.31,193.01 469.42,191.73" fill="none" stroke="#ef5fb0" stroke-width="0.8"/>
<polygon points="342.01,276.8 339.28,281.68 344.74,281.68" fill="#ef5fb0"/><polygon points="346.12,271.18 343.39,276.06 348.85,276.06" fill="#ef5fb0"/><polygon points="350.23,267.09 347.5,271.97 352.96,271.97" fill="#ef5fb0"/><polygon points="354.34,264.13 351.61,269 357.07,269" fill="#ef5fb0"/><polygon points="358.45,263 355.72,267.88 361.18,267.88" fill="#ef5fb0"/><polygon points="362.56,260.04 359.83,264.92 365.29,264.92" fill="#ef5fb0"/><polygon points="366.67,248.7 363.94,253.57 369.4,253.57" fill="#ef5fb0"/><polygon points="370.78,238.68 368.05,243.56 373.51,243.56" fill="#ef5fb0"/><polygon points="374.89,232.14 372.16,237.01 377.62,237.01" fill="#ef5fb0"/><polygon points="379,226.85 376.27,231.73 381.73,231.73" fill="#ef5fb0"/><polygon points="383.11,223.03 380.38,227.9 385.84,227.9" fill="#ef5fb0"/><polygon points="387.22,220.39 384.49,225.26 389.95,225.26" fill="#ef5fb0"/><polygon points="391.33,217.88 388.6,222.76 394.06,222.76" fill="#ef5fb0"/><polygon points="395.44,215.47 392.71,220.34 398.17,220.34" fill="#ef5fb0"/><polygon points="399.55,212.83 396.82,217.71 402.28,217.71" fill="#ef5fb0"/><polygon points="403.66,210.42 400.93,215.29 406.39,215.29" fill="#ef5fb0"/><polygon points="407.77,209.01 405.04,213.88 410.5,213.88" fill="#ef5fb0"/><polygon points="411.88,207.92 409.15,212.8 414.61,212.8" fill="#ef5fb0"/><polygon points="415.99,206.46 413.26,211.33 418.72,211.33" fill="#ef5fb0"/><polygon points="420.1,204.72 417.37,209.59 422.83,209.59" fill="#ef5fb0"/><polygon points="424.21,203 421.48,207.87 426.94,207.87" fill="#ef5fb0"/><polygon points="428.32,201.29 425.59,206.16 431.05,206.16" fill="#ef5fb0"/><polygon points="432.43,199.86 429.7,204.74 435.16,204.74" fill="#ef5fb0"/><polygon points="436.54,198.66 433.81,203.54 439.27,203.54" fill="#ef5fb0"/><polygon points="440.65,197.55 437.92,202.42 443.38,202.42" fill="#ef5fb0"/><polygon points="444.76,196.51 442.03,201.39 447.49,201.39" fill="#ef5fb0"/><polygon points="448.87,195.36 446.14,200.23 451.6,200.23" fill="#ef5fb0"/><polygon points="452.98,193.97 450.25,198.85 455.71,198.85" fill="#ef5fb0"/><polygon points="457.09,192.61 454.36,197.48 459.82,197.48" fill="#ef5fb0"/><polygon points="461.2,191.34 458.47,196.22 463.93,196.22" fill="#ef5fb0"/><polygon points="465.31,190.08 462.58,194.96 468.04,194.96" fill="#ef5fb0"/><polygon points="469.42,188.81 466.69,193.68 472.15,193.68" fill="#ef5fb0"/>
<polyline points="337.9,297.1 342.01,297.1 346.12,297.1 350.23,297.09 354.34,297.08 358.45,297.07 362.56,297.06 366.67,297.04 370.78,297.02 374.89,296.99 379,296.96 383.11,296.92 387.22,296.88 391.33,296.83 395.44,296.78 399.55,296.72 403.66,296.65 407.77,296.25 411.88,295.45 415.99,294.25 420.1,292.61 424.21,290.67 428.32,288.42 432.43,286.02 436.54,283.34 440.65,280.2 444.76,277.65 448.87,272.42 452.98,265.68 457.09,256.71 461.2,244.74 465.31,234.27" fill="none" stroke="#ef5fb0" stroke-width="0.8"/>
<polygon points="337.9,294.18 335.17,299.05 340.63,299.05" fill="#ef5fb0"/><polygon points="342.01,294.17 339.28,299.05 344.74,299.05" fill="#ef5fb0"/><polygon points="346.12,294.17 343.39,299.05 348.85,299.05" fill="#ef5fb0"/><polygon points="350.23,294.17 347.5,299.04 352.96,299.04" fill="#ef5fb0"/><polygon points="354.34,294.16 351.61,299.03 357.07,299.03" fill="#ef5fb0"/><polygon points="358.45,294.15 355.72,299.02 361.18,299.02" fill="#ef5fb0"/><polygon points="362.56,294.13 359.83,299.01 365.29,299.01" fill="#ef5fb0"/><polygon points="366.67,294.11 363.94,298.99 369.4,298.99" fill="#ef5fb0"/><polygon points="370.78,294.09 368.05,298.97 373.51,298.97" fill="#ef5fb0"/><polygon points="374.89,294.06 372.16,298.94 377.62,298.94" fill="#ef5fb0"/><polygon points="379,294.03 376.27,298.91 381.73,298.91" fill="#ef5fb0"/><polygon points="383.11,294 380.38,298.87 385.84,298.87" fill="#ef5fb0"/><polygon points="387.22,293.95 384.49,298.83 389.95,298.83" fill="#ef5fb0"/><polygon points="391.33,293.91 388.6,298.78 394.06,298.78" fill="#ef5fb0"/><polygon points="395.44,293.85 392.71,298.73 398.17,298.73" fill="#ef5fb0"/><polygon points="399.55,293.79 396.82,298.67 402.28,298.67" fill="#ef5fb0"/><polygon points="403.66,293.73 400.93,298.6 406.39,298.6" fill="#ef5fb0"/><polygon points="407.77,293.32 405.04,298.2 410.5,298.2" fill="#ef5fb0"/><polygon points="411.88,292.53 409.15,297.4 414.61,297.4" fill="#ef5fb0"/><polygon points="415.99,291.32 413.26,296.2 418.72,296.2" fill="#ef5fb0"/><polygon points="420.1,289.69 417.37,294.56 422.83,294.56" fill="#ef5fb0"/><polygon points="424.21,287.74 421.48,292.62 426.94,292.62" fill="#ef5fb0"/><polygon points="428.32,285.5 425.59,290.37 431.05,290.37" fill="#ef5fb0"/><polygon points="432.43,283.09 429.7,287.97 435.16,287.97" fill="#ef5fb0"/><polygon points="436.54,280.41 433.81,285.29 439.27,285.29" fill="#ef5fb0"/><polygon points="440.65,277.27 437.92,282.15 443.38,282.15" fill="#ef5fb0"/><polygon points="444.76,274.73 442.03,279.6 447.49,279.6" fill="#ef5fb0"/><polygon points="448.87,269.49 446.14,274.37 451.6,274.37" fill="#ef5fb0"/><polygon points="452.98,262.76 450.25,267.63 455.71,267.63" fill="#ef5fb0"/><polygon points="457.09,253.78 454.36,258.66 459.82,258.66" fill="#ef5fb0"/><polygon points="461.2,241.81 458.47,246.69 463.93,246.69" fill="#ef5fb0"/><polygon points="465.31,231.34 462.58,236.22 468.04,236.22" fill="#ef5fb0"/>
<polyline points="346.12,286.37 350.23,281.26 354.34,278.6 358.45,274.11 362.56,270.02 366.67,267.05 370.78,263.58 374.89,237.11 379,231.82 383.11,228 387.22,225.36 391.33,222.85 395.44,220.44 399.55,217.8 403.66,215.39 407.77,213.98 411.88,212.89 415.99,211.43 420.1,209.69 424.21,207.97 428.32,206.26 432.43,204.83 436.54,203.63 440.65,202.51 444.76,201.48 448.87,200.32 452.98,198.94 457.09,197.58 461.2,196.31 465.31,195.05" fill="none" stroke="#e5259a" stroke-width="0.8"/>
<polygon points="346.12,289.29 343.39,284.42 348.85,284.42" fill="#e5259a"/><polygon points="350.23,284.18 347.5,279.31 352.96,279.31" fill="#e5259a"/><polygon points="354.34,281.53 351.61,276.65 357.07,276.65" fill="#e5259a"/><polygon points="358.45,277.03 355.72,272.16 361.18,272.16" fill="#e5259a"/><polygon points="362.56,272.94 359.83,268.07 365.29,268.07" fill="#e5259a"/><polygon points="366.67,269.98 363.94,265.1 369.4,265.1" fill="#e5259a"/><polygon points="370.78,266.5 368.05,261.63 373.51,261.63" fill="#e5259a"/><polygon points="374.89,240.03 372.16,235.16 377.62,235.16" fill="#e5259a"/><polygon points="379,234.74 376.27,229.87 381.73,229.87" fill="#e5259a"/><polygon points="383.11,230.92 380.38,226.05 385.84,226.05" fill="#e5259a"/><polygon points="387.22,228.28 384.49,223.41 389.95,223.41" fill="#e5259a"/><polygon points="391.33,225.78 388.6,220.9 394.06,220.9" fill="#e5259a"/><polygon points="395.44,223.36 392.71,218.49 398.17,218.49" fill="#e5259a"/><polygon points="399.55,220.73 396.82,215.85 402.28,215.85" fill="#e5259a"/><polygon points="403.66,218.31 400.93,213.44 406.39,213.44" fill="#e5259a"/><polygon points="407.77,216.9 405.04,212.03 410.5,212.03" fill="#e5259a"/><polygon points="411.88,215.82 409.15,210.94 414.61,210.94" fill="#e5259a"/><polygon points="415.99,214.35 413.26,209.48 418.72,209.48" fill="#e5259a"/><polygon points="420.1,212.61 417.37,207.74 422.83,207.74" fill="#e5259a"/><polygon points="424.21,210.89 421.48,206.02 426.94,206.02" fill="#e5259a"/><polygon points="428.32,209.18 425.59,204.31 431.05,204.31" fill="#e5259a"/><polygon points="432.43,207.76 429.7,202.88 435.16,202.88" fill="#e5259a"/><polygon points="436.54,206.56 433.81,201.68 439.27,201.68" fill="#e5259a"/><polygon points="440.65,205.44 437.92,200.56 443.38,200.56" fill="#e5259a"/><polygon points="444.76,204.41 442.03,199.53 447.49,199.53" fill="#e5259a"/><polygon points="448.87,203.25 446.14,198.37 451.6,198.37" fill="#e5259a"/><polygon points="452.98,201.87 450.25,196.99 455.71,196.99" fill="#e5259a"/><polygon points="457.09,200.5 454.36,195.63 459.82,195.63" fill="#e5259a"/><polygon points="461.2,199.24 458.47,194.36 463.93,194.36" fill="#e5259a"/><polygon points="465.31,197.98 462.58,193.1 468.04,193.1" fill="#e5259a"/>
<polyline points="337.9,297.1 342.01,297.1 346.12,297.1 350.23,297.09 354.34,297.09 358.45,297.08 362.56,297.06 366.67,297.05 370.78,297.03 374.89,297.01 379,296.98 383.11,296.95 387.22,296.92 391.33,296.88 395.44,296.83 399.55,296.78 403.66,296.73 407.77,296.35 411.88,295.6 415.99,294.46 420.1,292.91 424.21,291.03 428.32,288.87 432.43,286.66 436.54,284.23 440.65,281.39 444.76,279.15 448.87,275.86 452.98,272.57 457.09,263.89 461.2,243.24 465.31,223.05" fill="none" stroke="#e5259a" stroke-width="0.8"/>
<polygon points="337.9,300.03 335.17,295.15 340.63,295.15" fill="#e5259a"/><polygon points="342.01,300.02 339.28,295.15 344.74,295.15" fill="#e5259a"/><polygon points="346.12,300.02 343.39,295.15 348.85,295.15" fill="#e5259a"/><polygon points="350.23,300.02 347.5,295.14 352.96,295.14" fill="#e5259a"/><polygon points="354.34,300.01 351.61,295.14 357.07,295.14" fill="#e5259a"/><polygon points="358.45,300 355.72,295.13 361.18,295.13" fill="#e5259a"/><polygon points="362.56,299.99 359.83,295.11 365.29,295.11" fill="#e5259a"/><polygon points="366.67,299.97 363.94,295.1 369.4,295.1" fill="#e5259a"/><polygon points="370.78,299.96 368.05,295.08 373.51,295.08" fill="#e5259a"/><polygon points="374.89,299.93 372.16,295.06 377.62,295.06" fill="#e5259a"/><polygon points="379,299.91 376.27,295.03 381.73,295.03" fill="#e5259a"/><polygon points="383.11,299.88 380.38,295 385.84,295" fill="#e5259a"/><polygon points="387.22,299.84 384.49,294.97 389.95,294.97" fill="#e5259a"/><polygon points="391.33,299.8 388.6,294.93 394.06,294.93" fill="#e5259a"/><polygon points="395.44,299.76 392.71,294.88 398.17,294.88" fill="#e5259a"/><polygon points="399.55,299.71 396.82,294.83 402.28,294.83" fill="#e5259a"/><polygon points="403.66,299.65 400.93,294.78 406.39,294.78" fill="#e5259a"/><polygon points="407.77,299.27 405.04,294.4 410.5,294.4" fill="#e5259a"/><polygon points="411.88,298.53 409.15,293.65 414.61,293.65" fill="#e5259a"/><polygon points="415.99,297.39 413.26,292.51 418.72,292.51" fill="#e5259a"/><polygon points="420.1,295.84 417.37,290.96 422.83,290.96" fill="#e5259a"/><polygon points="424.21,293.95 421.48,289.08 426.94,289.08" fill="#e5259a"/><polygon points="428.32,291.8 425.59,286.92 431.05,286.92" fill="#e5259a"/><polygon points="432.43,289.58 429.7,284.71 435.16,284.71" fill="#e5259a"/><polygon points="436.54,287.16 433.81,282.28 439.27,282.28" fill="#e5259a"/><polygon points="440.65,284.32 437.92,279.44 443.38,279.44" fill="#e5259a"/><polygon points="444.76,282.07 442.03,277.2 447.49,277.2" fill="#e5259a"/><polygon points="448.87,278.78 446.14,273.91 451.6,273.91" fill="#e5259a"/><polygon points="452.98,275.49 450.25,270.62 455.71,270.62" fill="#e5259a"/><polygon points="457.09,266.81 454.36,261.94 459.82,261.94" fill="#e5259a"/><polygon points="461.2,246.17 458.47,241.29 463.93,241.29" fill="#e5259a"/><polygon points="465.31,225.97 462.58,221.1 468.04,221.1" fill="#e5259a"/>
<rect x="333.3" y="184.5" width="140.5" height="112.6" fill="none" stroke="#333" stroke-width="0.8"/>
<line x1="337.9" y1="297.1" x2="337.9" y2="299.3" stroke="#333" stroke-width="0.7"/>
<line x1="354.34" y1="297.1" x2="354.34" y2="299.3" stroke="#333" stroke-width="0.7"/>
<line x1="370.78" y1="297.1" x2="370.78" y2="299.3" stroke="#333" stroke-width="0.7"/>
<line x1="387.22" y1="297.1" x2="387.22" y2="299.3" stroke="#333" stroke-width="0.7"/>
<line x1="403.66" y1="297.1" x2="403.66" y2="299.3" stroke="#333" stroke-width="0.7"/>
<line x1="420.1" y1="297.1" x2="420.1" y2="299.3" stroke="#333" stroke-width="0.7"/>
<line x1="436.54" y1="297.1" x2="436.54" y2="299.3" stroke="#333" stroke-width="0.7"/>
<line x1="452.98" y1="297.1" x2="452.98" y2="299.3" stroke="#333" stroke-width="0.7"/>
<line x1="469.42" y1="297.1" x2="469.42" y2="299.3" stroke="#333" stroke-width="0.7"/>
<line x1="346.12" y1="297.1" x2="346.12" y2="298.5" stroke="#333" stroke-width="0.7"/>
<line x1="362.56" y1="297.1" x2="362.56" y2="298.5" stroke="#333" stroke-width="0.7"/>
<line x1="379" y1="297.1" x2="379" y2="298.5" stroke="#333" stroke-width="0.7"/>
<line x1="395.44" y1="297.1" x2="395.44" y2="298.5" stroke="#333" stroke-width="0.7"/>
<line x1="411.88" y1="297.1" x2="411.88" y2="298.5" stroke="#333" stroke-width="0.7"/>
<line x1="428.32" y1="297.1" x2="428.32" y2="298.5" stroke="#333" stroke-width="0.7"/>
<line x1="444.76" y1="297.1" x2="444.76" y2="298.5" stroke="#333" stroke-width="0.7"/>
<line x1="461.2" y1="297.1" x2="461.2" y2="298.5" stroke="#333" stroke-width="0.7"/>
<line x1="333.3" y1="297.1" x2="331.1" y2="297.1" stroke="#333" stroke-width="0.7"/>
<line x1="333.3" y1="286.88" x2="331.1" y2="286.88" stroke="#333" stroke-width="0.7"/>
<line x1="333.3" y1="276.66" x2="331.1" y2="276.66" stroke="#333" stroke-width="0.7"/>
<line x1="333.3" y1="266.44" x2="331.1" y2="266.44" stroke="#333" stroke-width="0.7"/>
<line x1="333.3" y1="256.22" x2="331.1" y2="256.22" stroke="#333" stroke-width="0.7"/>
<line x1="333.3" y1="246" x2="331.1" y2="246" stroke="#333" stroke-width="0.7"/>
<line x1="333.3" y1="235.78" x2="331.1" y2="235.78" stroke="#333" stroke-width="0.7"/>
<line x1="333.3" y1="225.56" x2="331.1" y2="225.56" stroke="#333" stroke-width="0.7"/>
<line x1="333.3" y1="215.34" x2="331.1" y2="215.34" stroke="#333" stroke-width="0.7"/>
<line x1="333.3" y1="205.12" x2="331.1" y2="205.12" stroke="#333" stroke-width="0.7"/>
<line x1="333.3" y1="194.9" x2="331.1" y2="194.9" stroke="#333" stroke-width="0.7"/>
<line x1="473.8" y1="297.1" x2="476" y2="297.1" stroke="#333" stroke-width="0.7"/>
<line x1="473.8" y1="282.14" x2="476" y2="282.14" stroke="#333" stroke-width="0.7"/>
<line x1="473.8" y1="267.18" x2="476" y2="267.18" stroke="#333" stroke-width="0.7"/>
<line x1="473.8" y1="252.22" x2="476" y2="252.22" stroke="#333" stroke-width="0.7"/>
<line x1="473.8" y1="237.26" x2="476" y2="237.26" stroke="#333" stroke-width="0.7"/>
<line x1="473.8" y1="222.3" x2="476" y2="222.3" stroke="#333" stroke-width="0.7"/>
<line x1="473.8" y1="207.34" x2="476" y2="207.34" stroke="#333" stroke-width="0.7"/>
<line x1="473.8" y1="192.38" x2="476" y2="192.38" stroke="#333" stroke-width="0.7"/>
<line x1="473.8" y1="289.62" x2="475.2" y2="289.62" stroke="#333" stroke-width="0.7"/>
<line x1="473.8" y1="274.66" x2="475.2" y2="274.66" stroke="#333" stroke-width="0.7"/>
<line x1="473.8" y1="259.7" x2="475.2" y2="259.7" stroke="#333" stroke-width="0.7"/>
<line x1="473.8" y1="244.74" x2="475.2" y2="244.74" stroke="#333" stroke-width="0.7"/>
<line x1="473.8" y1="229.78" x2="475.2" y2="229.78" stroke="#333" stroke-width="0.7"/>
<line x1="473.8" y1="214.82" x2="475.2" y2="214.82" stroke="#333" stroke-width="0.7"/>
<line x1="473.8" y1="199.86" x2="475.2" y2="199.86" stroke="#333" stroke-width="0.7"/>
<line x1="473.8" y1="184.9" x2="475.2" y2="184.9" stroke="#333" stroke-width="0.7"/>
<text x="329.2" y="299.8" font-size="7.7" text-anchor="end" letter-spacing="-0.2">10<tspan font-size="4.8" dy="-3.3">-8</tspan></text>
<text x="329.2" y="289.58" font-size="7.7" text-anchor="end" letter-spacing="-0.2">10<tspan font-size="4.8" dy="-3.3">-7</tspan></text>
<text x="329.2" y="279.36" font-size="7.7" text-anchor="end" letter-spacing="-0.2">10<tspan font-size="4.8" dy="-3.3">-6</tspan></text>
<text x="329.2" y="269.14" font-size="7.7" text-anchor="end" letter-spacing="-0.2">10<tspan font-size="4.8" dy="-3.3">-5</tspan></text>
<text x="329.2" y="258.92" font-size="7.7" text-anchor="end" letter-spacing="-0.2">10<tspan font-size="4.8" dy="-3.3">-4</tspan></text>
<text x="329.2" y="248.7" font-size="7.7" text-anchor="end" letter-spacing="-0.2">10<tspan font-size="4.8" dy="-3.3">-3</tspan></text>
<text x="329.2" y="238.48" font-size="7.7" text-anchor="end" letter-spacing="-0.2">10<tspan font-size="4.8" dy="-3.3">-2</tspan></text>
<text x="329.2" y="228.26" font-size="7.7" text-anchor="end" letter-spacing="-0.2">10<tspan font-size="4.8" dy="-3.3">-1</tspan></text>
<text x="329.2" y="218.04" font-size="7.7" text-anchor="end" letter-spacing="-0.2">10<tspan font-size="4.8" dy="-3.3">0</tspan></text>
<text x="329.2" y="207.82" font-size="7.7" text-anchor="end" letter-spacing="-0.2">10<tspan font-size="4.8" dy="-3.3">1</tspan></text>
<text x="329.2" y="197.6" font-size="7.7" text-anchor="end" letter-spacing="-0.2">10<tspan font-size="4.8" dy="-3.3">2</tspan></text>
<text x="476.8" y="299.6" font-size="7.6" text-anchor="start" fill="#000" >0</text>
<text x="476.8" y="284.64" font-size="7.6" text-anchor="start" fill="#000" >10</text>
<text x="476.8" y="269.68" font-size="7.6" text-anchor="start" fill="#000" >20</text>
<text x="476.8" y="254.72" font-size="7.6" text-anchor="start" fill="#000" >30</text>
<text x="476.8" y="239.76" font-size="7.6" text-anchor="start" fill="#000" >40</text>
<text x="476.8" y="224.8" font-size="7.6" text-anchor="start" fill="#000" >50</text>
<text x="476.8" y="209.84" font-size="7.6" text-anchor="start" fill="#000" >60</text>
<text x="476.8" y="194.88" font-size="7.6" text-anchor="start" fill="#000" >70</text>
<text x="337.9" y="307" font-size="7.6" text-anchor="middle" fill="#000" >0</text>
<text x="354.34" y="307" font-size="7.6" text-anchor="middle" fill="#000" >2</text>
<text x="370.78" y="307" font-size="7.6" text-anchor="middle" fill="#000" >4</text>
<text x="387.22" y="307" font-size="7.6" text-anchor="middle" fill="#000" >6</text>
<text x="403.66" y="307" font-size="7.6" text-anchor="middle" fill="#000" >8</text>
<text x="420.1" y="307" font-size="7.6" text-anchor="middle" fill="#000" >10</text>
<text x="436.54" y="307" font-size="7.6" text-anchor="middle" fill="#000" >12</text>
<text x="452.98" y="307" font-size="7.6" text-anchor="middle" fill="#000" >14</text>
<text x="469.42" y="307" font-size="7.6" text-anchor="middle" fill="#000" >16</text>
<text x="403.7" y="318.8" font-size="7.5" text-anchor="middle" fill="#000" >Voltage (V)</text>
<text transform="translate(309.6,240.5) rotate(-90)" font-size="7.5" text-anchor="middle">Current density (mA cm<tspan font-size="5" dy="-2.6">&#8722;2</tspan><tspan dy="2.6">)</tspan></text>
<text transform="translate(500.6,238.5) rotate(-90)" font-size="7.5" text-anchor="middle">Radiance (W m<tspan font-size="5" dy="-2.6">&#8722;2</tspan><tspan dy="2.6"> sr</tspan><tspan font-size="5" dy="-2.6">&#8722;1</tspan><tspan dy="2.6">)</tspan></text>
<line x1="338.1" y1="190.7" x2="350.8" y2="190.7" stroke="#f9bedb" stroke-width="0.9"/>
<rect x="342.45" y="188.75" width="3.9" height="3.9" fill="#f9bedb"/>
<text x="351.9" y="193" font-size="6.5" textLength="32.6" lengthAdjust="spacingAndGlyphs"><tspan font-size="7.2">&#955;</tspan><tspan font-size="4.3" dy="1.5">peak</tspan><tspan dy="-1.5">: 720 nm</tspan></text>
<line x1="338.1" y1="199.3" x2="350.8" y2="199.3" stroke="#f47fc0" stroke-width="0.9"/>
<circle cx="344.4" cy="199.3" r="2.15" fill="#f47fc0"/>
<text x="351.9" y="201.6" font-size="6.5" textLength="32.6" lengthAdjust="spacingAndGlyphs"><tspan font-size="7.2">&#955;</tspan><tspan font-size="4.3" dy="1.5">peak</tspan><tspan dy="-1.5">: 730 nm</tspan></text>
<line x1="338.1" y1="208.2" x2="350.8" y2="208.2" stroke="#ef5fb0" stroke-width="0.9"/>
<polygon points="344.4,205.27 341.67,210.15 347.13,210.15" fill="#ef5fb0"/>
<text x="351.9" y="210.5" font-size="6.5" textLength="32.6" lengthAdjust="spacingAndGlyphs"><tspan font-size="7.2">&#955;</tspan><tspan font-size="4.3" dy="1.5">peak</tspan><tspan dy="-1.5">: 740 nm</tspan></text>
<line x1="338.1" y1="216.9" x2="350.8" y2="216.9" stroke="#e5259a" stroke-width="0.9"/>
<polygon points="344.4,219.83 341.67,214.95 347.13,214.95" fill="#e5259a"/>
<text x="351.9" y="219.2" font-size="6.5" textLength="32.6" lengthAdjust="spacingAndGlyphs"><tspan font-size="7.2">&#955;</tspan><tspan font-size="4.3" dy="1.5">peak</tspan><tspan dy="-1.5">: 750 nm</tspan></text>
<text x="512.3" y="178.6" font-size="14" font-weight="bold">e</text>
<rect x="539.6" y="184.3" width="139.6" height="112.5" fill="none" stroke="#333" stroke-width="0.8"/>
<path d="M539.6,296.75L539.8,296.75L540,296.75L540.2,296.75L540.4,296.75L540.6,296.75L540.8,296.74L541,296.74L541.2,296.74L541.39,296.74L541.59,296.74L541.79,296.74L541.99,296.74L542.19,296.74L542.39,296.74L542.59,296.74L542.79,296.74L542.99,296.74L543.19,296.74L543.39,296.74L543.59,296.74L543.79,296.74L543.99,296.74L544.19,296.73L544.39,296.73L544.59,296.73L544.79,296.73L544.98,296.73L545.18,296.73L545.38,296.73L545.58,296.73L545.78,296.73L545.98,296.73L546.18,296.73L546.38,296.73L546.58,296.73L546.78,296.73L546.98,296.72L547.18,296.72L547.38,296.72L547.58,296.72L547.78,296.72L547.98,296.72L548.18,296.72L548.37,296.72L548.57,296.72L548.77,296.72L548.97,296.72L549.17,296.71L549.37,296.71L549.57,296.71L549.77,296.71L549.97,296.71L550.17,296.71L550.37,296.71L550.57,296.71L550.77,296.71L550.97,296.71L551.17,296.71L551.37,296.7L551.57,296.7L551.77,296.7L551.96,296.7L552.16,296.7L552.36,296.7L552.56,296.7L552.76,296.7L552.96,296.69L553.16,296.69L553.36,296.69L553.56,296.69L553.76,296.69L553.96,296.69L554.16,296.69L554.36,296.69L554.56,296.68L554.76,296.68L554.96,296.68L555.16,296.68L555.35,296.68L555.55,296.68L555.75,296.68L555.95,296.68L556.15,296.67L556.35,296.67L556.55,296.67L556.75,296.67L556.95,296.67L557.15,296.67L557.35,296.66L557.55,296.66L557.75,296.66L557.95,296.66L558.15,296.66L558.35,296.66L558.55,296.65L558.75,296.65L558.94,296.65L559.14,296.65L559.34,296.65L559.54,296.65L559.74,296.64L559.94,296.64L560.14,296.64L560.34,296.64L560.54,296.64L560.74,296.63L560.94,296.63L561.14,296.63L561.34,296.63L561.54,296.62L561.74,296.62L561.94,296.62L562.14,296.62L562.33,296.62L562.53,296.61L562.73,296.61L562.93,296.61L563.13,296.61L563.33,296.6L563.53,296.6L563.73,296.6L563.93,296.6L564.13,296.59L564.33,296.59L564.53,296.59L564.73,296.58L564.93,296.58L565.13,296.58L565.33,296.58L565.53,296.57L565.73,296.57L565.92,296.57L566.12,296.56L566.32,296.56L566.52,296.56L566.72,296.55L566.92,296.55L567.12,296.55L567.32,296.54L567.52,296.54L567.72,296.54L567.92,296.53L568.12,296.53L568.32,296.53L568.52,296.52L568.72,296.52L568.92,296.51L569.12,296.51L569.31,296.51L569.51,296.5L569.71,296.5L569.91,296.49L570.11,296.49L570.31,296.48L570.51,296.48L570.71,296.47L570.91,296.47L571.11,296.47L571.31,296.46L571.51,296.46L571.71,296.45L571.91,296.44L572.11,296.44L572.31,296.43L572.51,296.43L572.71,296.42L572.9,296.42L573.1,296.41L573.3,296.41L573.5,296.4L573.7,296.39L573.9,296.39L574.1,296.38L574.3,296.38L574.5,296.37L574.7,296.36L574.9,296.36L575.1,296.35L575.3,296.34L575.5,296.33L575.7,296.33L575.9,296.32L576.1,296.31L576.29,296.3L576.49,296.3L576.69,296.29L576.89,296.28L577.09,296.27L577.29,296.26L577.49,296.25L577.69,296.25L577.89,296.24L578.09,296.23L578.29,296.22L578.49,296.21L578.69,296.2L578.89,296.19L579.09,296.18L579.29,296.17L579.49,296.16L579.69,296.15L579.88,296.14L580.08,296.13L580.28,296.11L580.48,296.1L580.68,296.09L580.88,296.08L581.08,296.07L581.28,296.05L581.48,296.04L581.68,296.03L581.88,296.01L582.08,296L582.28,295.99L582.48,295.97L582.68,295.96L582.88,295.94L583.08,295.93L583.27,295.91L583.47,295.9L583.67,295.88L583.87,295.86L584.07,295.85L584.27,295.83L584.47,295.81L584.67,295.79L584.87,295.78L585.07,295.76L585.27,295.74L585.47,295.72L585.67,295.7L585.87,295.68L586.07,295.66L586.27,295.64L586.47,295.61L586.67,295.59L586.86,295.57L587.06,295.54L587.26,295.52L587.46,295.5L587.66,295.47L587.86,295.44L588.06,295.42L588.26,295.39L588.46,295.36L588.66,295.34L588.86,295.31L589.06,295.28L589.26,295.25L589.46,295.22L589.66,295.18L589.86,295.15L590.06,295.12L590.25,295.09L590.45,295.05L590.65,295.01L590.85,294.98L591.05,294.94L591.25,294.9L591.45,294.86L591.65,294.82L591.85,294.78L592.05,294.74L592.25,294.7L592.45,294.65L592.65,294.61L592.85,294.56L593.05,294.51L593.25,294.46L593.45,294.41L593.65,294.36L593.84,294.31L594.04,294.25L594.24,294.2L594.44,294.14L594.64,294.08L594.84,294.02L595.04,293.96L595.24,293.9L595.44,293.83L595.64,293.77L595.84,293.7L596.04,293.63L596.24,293.56L596.44,293.48L596.64,293.41L596.84,293.33L597.04,293.25L597.23,293.17L597.43,293.08L597.63,293L597.83,292.91L598.03,292.82L598.23,292.72L598.43,292.63L598.63,292.53L598.83,292.43L599.03,292.32L599.23,292.21L599.43,292.1L599.63,291.99L599.83,291.87L600.03,291.75L600.23,291.63L600.43,291.5L600.63,291.37L600.82,291.24L601.02,291.1L601.22,290.96L601.42,290.81L601.62,290.66L601.82,290.51L602.02,290.35L602.22,290.19L602.42,290.02L602.62,289.84L602.82,289.67L603.02,289.48L603.22,289.29L603.42,289.1L603.62,288.9L603.82,288.69L604.02,288.48L604.21,288.27L604.41,288.04L604.61,287.81L604.81,287.57L605.01,287.33L605.21,287.08L605.41,286.82L605.61,286.55L605.81,286.27L606.01,285.99L606.21,285.7L606.41,285.4L606.61,285.09L606.81,284.77L607.01,284.44L607.21,284.1L607.41,283.76L607.61,283.4L607.8,283.03L608,282.65L608.2,282.26L608.4,281.86L608.6,281.44L608.8,281.02L609,280.58L609.2,280.12L609.4,279.66L609.6,279.18L609.8,278.69L610,278.18L610.2,277.66L610.4,277.12L610.6,276.57L610.8,276L611,275.42L611.19,274.82L611.39,274.2L611.59,273.56L611.79,272.91L611.99,272.24L612.19,271.55L612.39,270.84L612.59,270.11L612.79,269.37L612.99,268.6L613.19,267.81L613.39,267L613.59,266.18L613.79,265.33L613.99,264.46L614.19,263.56L614.39,262.65L614.59,261.71L614.78,260.76L614.98,259.78L615.18,258.77L615.38,257.75L615.58,256.7L615.78,255.63L615.98,254.54L616.18,253.43L616.38,252.29L616.58,251.13L616.78,249.96L616.98,248.76L617.18,247.54L617.38,246.3L617.58,245.04L617.78,243.76L617.98,242.46L618.17,241.15L618.37,239.82L618.57,238.48L618.77,237.12L618.97,235.75L619.17,234.37L619.37,232.98L619.57,231.58L619.77,230.17L619.97,228.76L620.17,227.35L620.37,225.93L620.57,224.52L620.77,223.11L620.97,221.7L621.17,220.3L621.37,218.91L621.57,217.54L621.76,216.18L621.96,214.83L622.16,213.51L622.36,212.21L622.56,210.94L622.76,209.7L622.96,208.49L623.16,207.31L623.36,206.17L623.56,205.07L623.76,204.01L623.96,203L624.16,202.03L624.36,201.12L624.56,200.26L624.76,199.46L624.96,198.71L625.15,198.02L625.35,197.4L625.55,196.84L625.75,196.34L625.95,195.91L626.15,195.55L626.35,195.26L626.55,195.04L626.75,194.89L626.95,194.81L627.15,194.81L627.35,194.88L627.55,195.04L627.75,195.28L627.95,195.6L628.15,196.01L628.35,196.49L628.55,197.04L628.74,197.67L628.94,198.37L629.14,199.14L629.34,199.98L629.54,200.88L629.74,201.83L629.94,202.84L630.14,203.9L630.34,205.01L630.54,206.17L630.74,207.36L630.94,208.59L631.14,209.85L631.34,211.14L631.54,212.45L631.74,213.79L631.94,215.14L632.13,216.51L632.33,217.89L632.53,219.28L632.73,220.68L632.93,222.07L633.13,223.47L633.33,224.87L633.53,226.26L633.73,227.64L633.93,229.01L634.13,230.38L634.33,231.73L634.53,233.07L634.73,234.4L634.93,235.7L635.13,237L635.33,238.27L635.53,239.52L635.72,240.76L635.92,241.97L636.12,243.16L636.32,244.34L636.52,245.49L636.72,246.62L636.92,247.72L637.12,248.81L637.32,249.87L637.52,250.91L637.72,251.93L637.92,252.92L638.12,253.9L638.32,254.85L638.52,255.78L638.72,256.69L638.92,257.58L639.11,258.44L639.31,259.29L639.51,260.12L639.71,260.92L639.91,261.71L640.11,262.48L640.31,263.23L640.51,263.96L640.71,264.67L640.91,265.37L641.11,266.04L641.31,266.7L641.51,267.35L641.71,267.98L641.91,268.59L642.11,269.19L642.31,269.77L642.51,270.34L642.7,270.89L642.9,271.43L643.1,271.95L643.3,272.47L643.5,272.97L643.7,273.45L643.9,273.93L644.1,274.39L644.3,274.84L644.5,275.28L644.7,275.71L644.9,276.13L645.1,276.54L645.3,276.94L645.5,277.33L645.7,277.71L645.9,278.07L646.09,278.44L646.29,278.79L646.49,279.13L646.69,279.46L646.89,279.79L647.09,280.11L647.29,280.42L647.49,280.73L647.69,281.02L647.89,281.31L648.09,281.59L648.29,281.87L648.49,282.14L648.69,282.4L648.89,282.66L649.09,282.91L649.29,283.16L649.49,283.4L649.68,283.63L649.88,283.86L650.08,284.08L650.28,284.3L650.48,284.52L650.68,284.73L650.88,284.93L651.08,285.13L651.28,285.32L651.48,285.52L651.68,285.7L651.88,285.89L652.08,286.06L652.28,286.24L652.48,286.41L652.68,286.58L652.88,286.74L653.07,286.9L653.27,287.06L653.47,287.21L653.67,287.36L653.87,287.51L654.07,287.65L654.27,287.8L654.47,287.93L654.67,288.07L654.87,288.2L655.07,288.33L655.27,288.46L655.47,288.59L655.67,288.71L655.87,288.83L656.07,288.95L656.27,289.06L656.47,289.17L656.66,289.28L656.86,289.39L657.06,289.5L657.26,289.6L657.46,289.71L657.66,289.81L657.86,289.9L658.06,290L658.26,290.1L658.46,290.19L658.66,290.28L658.86,290.37L659.06,290.46L659.26,290.54L659.46,290.63L659.66,290.71L659.86,290.79L660.05,290.87L660.25,290.95L660.45,291.03L660.65,291.11L660.85,291.18L661.05,291.25L661.25,291.33L661.45,291.4L661.65,291.47L661.85,291.53L662.05,291.6L662.25,291.67L662.45,291.73L662.65,291.8L662.85,291.86L663.05,291.92L663.25,291.98L663.45,292.04L663.64,292.1L663.84,292.15L664.04,292.21L664.24,292.27L664.44,292.32L664.64,292.37L664.84,292.43L665.04,292.48L665.24,292.53L665.44,292.58L665.64,292.63L665.84,292.68L666.04,292.73L666.24,292.77L666.44,292.82L666.64,292.87L666.84,292.91L667.03,292.96L667.23,293L667.43,293.04L667.63,293.08L667.83,293.13L668.03,293.17L668.23,293.21L668.43,293.25L668.63,293.29L668.83,293.32L669.03,293.36L669.23,293.4L669.43,293.44L669.63,293.47L669.83,293.51L670.03,293.54L670.23,293.58L670.43,293.61L670.62,293.65L670.82,293.68L671.02,293.71L671.22,293.74L671.42,293.78L671.62,293.81L671.82,293.84L672.02,293.87L672.22,293.9L672.42,293.93L672.62,293.96L672.82,293.99L673.02,294.01L673.22,294.04L673.42,294.07L673.62,294.1L673.82,294.12L674.01,294.15L674.21,294.18L674.41,294.2L674.61,294.23L674.81,294.25L675.01,294.28L675.21,294.3L675.41,294.33L675.61,294.35L675.81,294.37L676.01,294.4L676.21,294.42L676.41,294.44L676.61,294.46L676.81,294.49L677.01,294.51L677.21,294.53L677.41,294.55L677.6,294.57L677.8,294.59L678,294.61L678.2,294.63L678.4,294.65L678.6,294.67L678.8,294.69L679,294.71L679.2,294.73" fill="none" stroke="#f9c4de" stroke-width="1" stroke-linejoin="round" />
<path d="M539.6,296.73L539.8,296.73L540,296.73L540.2,296.73L540.4,296.73L540.6,296.73L540.8,296.73L541,296.72L541.2,296.72L541.39,296.72L541.59,296.72L541.79,296.72L541.99,296.72L542.19,296.72L542.39,296.72L542.59,296.72L542.79,296.72L542.99,296.72L543.19,296.72L543.39,296.72L543.59,296.72L543.79,296.71L543.99,296.71L544.19,296.71L544.39,296.71L544.59,296.71L544.79,296.71L544.98,296.71L545.18,296.71L545.38,296.71L545.58,296.71L545.78,296.71L545.98,296.71L546.18,296.71L546.38,296.7L546.58,296.7L546.78,296.7L546.98,296.7L547.18,296.7L547.38,296.7L547.58,296.7L547.78,296.7L547.98,296.7L548.18,296.7L548.37,296.7L548.57,296.69L548.77,296.69L548.97,296.69L549.17,296.69L549.37,296.69L549.57,296.69L549.77,296.69L549.97,296.69L550.17,296.69L550.37,296.68L550.57,296.68L550.77,296.68L550.97,296.68L551.17,296.68L551.37,296.68L551.57,296.68L551.77,296.68L551.96,296.68L552.16,296.67L552.36,296.67L552.56,296.67L552.76,296.67L552.96,296.67L553.16,296.67L553.36,296.67L553.56,296.67L553.76,296.66L553.96,296.66L554.16,296.66L554.36,296.66L554.56,296.66L554.76,296.66L554.96,296.66L555.16,296.65L555.35,296.65L555.55,296.65L555.75,296.65L555.95,296.65L556.15,296.65L556.35,296.65L556.55,296.64L556.75,296.64L556.95,296.64L557.15,296.64L557.35,296.64L557.55,296.64L557.75,296.63L557.95,296.63L558.15,296.63L558.35,296.63L558.55,296.63L558.75,296.62L558.94,296.62L559.14,296.62L559.34,296.62L559.54,296.62L559.74,296.62L559.94,296.61L560.14,296.61L560.34,296.61L560.54,296.61L560.74,296.61L560.94,296.6L561.14,296.6L561.34,296.6L561.54,296.6L561.74,296.59L561.94,296.59L562.14,296.59L562.33,296.59L562.53,296.59L562.73,296.58L562.93,296.58L563.13,296.58L563.33,296.58L563.53,296.57L563.73,296.57L563.93,296.57L564.13,296.57L564.33,296.56L564.53,296.56L564.73,296.56L564.93,296.55L565.13,296.55L565.33,296.55L565.53,296.55L565.73,296.54L565.92,296.54L566.12,296.54L566.32,296.53L566.52,296.53L566.72,296.53L566.92,296.52L567.12,296.52L567.32,296.52L567.52,296.51L567.72,296.51L567.92,296.51L568.12,296.5L568.32,296.5L568.52,296.5L568.72,296.49L568.92,296.49L569.12,296.49L569.31,296.48L569.51,296.48L569.71,296.47L569.91,296.47L570.11,296.47L570.31,296.46L570.51,296.46L570.71,296.45L570.91,296.45L571.11,296.45L571.31,296.44L571.51,296.44L571.71,296.43L571.91,296.43L572.11,296.42L572.31,296.42L572.51,296.41L572.71,296.41L572.9,296.4L573.1,296.4L573.3,296.39L573.5,296.39L573.7,296.38L573.9,296.38L574.1,296.37L574.3,296.37L574.5,296.36L574.7,296.35L574.9,296.35L575.1,296.34L575.3,296.34L575.5,296.33L575.7,296.32L575.9,296.32L576.1,296.31L576.29,296.3L576.49,296.3L576.69,296.29L576.89,296.28L577.09,296.28L577.29,296.27L577.49,296.26L577.69,296.25L577.89,296.25L578.09,296.24L578.29,296.23L578.49,296.22L578.69,296.22L578.89,296.21L579.09,296.2L579.29,296.19L579.49,296.18L579.69,296.17L579.88,296.16L580.08,296.16L580.28,296.15L580.48,296.14L580.68,296.13L580.88,296.12L581.08,296.11L581.28,296.1L581.48,296.09L581.68,296.08L581.88,296.07L582.08,296.05L582.28,296.04L582.48,296.03L582.68,296.02L582.88,296.01L583.08,296L583.27,295.99L583.47,295.97L583.67,295.96L583.87,295.95L584.07,295.93L584.27,295.92L584.47,295.91L584.67,295.89L584.87,295.88L585.07,295.87L585.27,295.85L585.47,295.84L585.67,295.82L585.87,295.81L586.07,295.79L586.27,295.77L586.47,295.76L586.67,295.74L586.86,295.72L587.06,295.71L587.26,295.69L587.46,295.67L587.66,295.65L587.86,295.63L588.06,295.61L588.26,295.59L588.46,295.57L588.66,295.55L588.86,295.53L589.06,295.51L589.26,295.49L589.46,295.47L589.66,295.45L589.86,295.42L590.06,295.4L590.25,295.38L590.45,295.35L590.65,295.33L590.85,295.3L591.05,295.27L591.25,295.25L591.45,295.22L591.65,295.19L591.85,295.16L592.05,295.14L592.25,295.11L592.45,295.08L592.65,295.05L592.85,295.01L593.05,294.98L593.25,294.95L593.45,294.91L593.65,294.88L593.84,294.85L594.04,294.81L594.24,294.77L594.44,294.74L594.64,294.7L594.84,294.66L595.04,294.62L595.24,294.58L595.44,294.53L595.64,294.49L595.84,294.45L596.04,294.4L596.24,294.36L596.44,294.31L596.64,294.26L596.84,294.21L597.04,294.16L597.23,294.11L597.43,294.06L597.63,294L597.83,293.95L598.03,293.89L598.23,293.83L598.43,293.77L598.63,293.71L598.83,293.65L599.03,293.59L599.23,293.52L599.43,293.45L599.63,293.39L599.83,293.31L600.03,293.24L600.23,293.17L600.43,293.09L600.63,293.02L600.82,292.94L601.02,292.85L601.22,292.77L601.42,292.69L601.62,292.6L601.82,292.51L602.02,292.42L602.22,292.32L602.42,292.22L602.62,292.12L602.82,292.02L603.02,291.92L603.22,291.81L603.42,291.7L603.62,291.58L603.82,291.47L604.02,291.35L604.21,291.23L604.41,291.1L604.61,290.97L604.81,290.84L605.01,290.7L605.21,290.56L605.41,290.42L605.61,290.27L605.81,290.12L606.01,289.97L606.21,289.81L606.41,289.64L606.61,289.47L606.81,289.3L607.01,289.12L607.21,288.94L607.41,288.75L607.61,288.56L607.8,288.36L608,288.16L608.2,287.95L608.4,287.73L608.6,287.51L608.8,287.28L609,287.05L609.2,286.81L609.4,286.56L609.6,286.31L609.8,286.05L610,285.78L610.2,285.5L610.4,285.22L610.6,284.92L610.8,284.62L611,284.31L611.19,284L611.39,283.67L611.59,283.33L611.79,282.99L611.99,282.63L612.19,282.27L612.39,281.89L612.59,281.5L612.79,281.11L612.99,280.7L613.19,280.28L613.39,279.84L613.59,279.4L613.79,278.94L613.99,278.47L614.19,277.99L614.39,277.49L614.59,276.98L614.78,276.46L614.98,275.92L615.18,275.36L615.38,274.79L615.58,274.21L615.78,273.6L615.98,272.99L616.18,272.35L616.38,271.7L616.58,271.03L616.78,270.34L616.98,269.64L617.18,268.91L617.38,268.17L617.58,267.41L617.78,266.63L617.98,265.83L618.17,265.01L618.37,264.17L618.57,263.3L618.77,262.42L618.97,261.52L619.17,260.59L619.37,259.65L619.57,258.68L619.77,257.69L619.97,256.68L620.17,255.65L620.37,254.6L620.57,253.52L620.77,252.43L620.97,251.31L621.17,250.17L621.37,249.01L621.57,247.83L621.76,246.63L621.96,245.42L622.16,244.18L622.36,242.93L622.56,241.65L622.76,240.36L622.96,239.06L623.16,237.74L623.36,236.41L623.56,235.06L623.76,233.71L623.96,232.34L624.16,230.97L624.36,229.59L624.56,228.2L624.76,226.82L624.96,225.43L625.15,224.04L625.35,222.65L625.55,221.27L625.75,219.9L625.95,218.54L626.15,217.18L626.35,215.85L626.55,214.53L626.75,213.23L626.95,211.95L627.15,210.7L627.35,209.48L627.55,208.28L627.75,207.13L627.95,206L628.15,204.92L628.35,203.88L628.55,202.88L628.74,201.93L628.94,201.03L629.14,200.18L629.34,199.39L629.54,198.66L629.74,197.98L629.94,197.36L630.14,196.81L630.34,196.32L630.54,195.9L630.74,195.54L630.94,195.26L631.14,195.04L631.34,194.89L631.54,194.81L631.74,194.81L631.94,194.86L632.13,194.99L632.33,195.18L632.53,195.44L632.73,195.76L632.93,196.14L633.13,196.58L633.33,197.09L633.53,197.65L633.73,198.27L633.93,198.94L634.13,199.67L634.33,200.44L634.53,201.27L634.73,202.13L634.93,203.05L635.13,204L635.33,204.99L635.53,206.01L635.72,207.07L635.92,208.16L636.12,209.27L636.32,210.41L636.52,211.57L636.72,212.75L636.92,213.95L637.12,215.16L637.32,216.38L637.52,217.61L637.72,218.85L637.92,220.1L638.12,221.34L638.32,222.59L638.52,223.84L638.72,225.09L638.92,226.34L639.11,227.58L639.31,228.81L639.51,230.04L639.71,231.25L639.91,232.46L640.11,233.65L640.31,234.84L640.51,236.01L640.71,237.17L640.91,238.31L641.11,239.44L641.31,240.55L641.51,241.65L641.71,242.73L641.91,243.79L642.11,244.83L642.31,245.86L642.51,246.88L642.7,247.87L642.9,248.85L643.1,249.8L643.3,250.75L643.5,251.67L643.7,252.57L643.9,253.46L644.1,254.33L644.3,255.19L644.5,256.02L644.7,256.84L644.9,257.64L645.1,258.43L645.3,259.19L645.5,259.95L645.7,260.68L645.9,261.4L646.09,262.11L646.29,262.79L646.49,263.47L646.69,264.13L646.89,264.77L647.09,265.4L647.29,266.02L647.49,266.62L647.69,267.21L647.89,267.78L648.09,268.35L648.29,268.9L648.49,269.43L648.69,269.96L648.89,270.47L649.09,270.97L649.29,271.46L649.49,271.94L649.68,272.41L649.88,272.87L650.08,273.32L650.28,273.75L650.48,274.18L650.68,274.6L650.88,275.01L651.08,275.41L651.28,275.8L651.48,276.18L651.68,276.55L651.88,276.92L652.08,277.27L652.28,277.62L652.48,277.96L652.68,278.3L652.88,278.62L653.07,278.94L653.27,279.25L653.47,279.56L653.67,279.86L653.87,280.15L654.07,280.43L654.27,280.71L654.47,280.99L654.67,281.25L654.87,281.52L655.07,281.77L655.27,282.02L655.47,282.27L655.67,282.51L655.87,282.74L656.07,282.97L656.27,283.2L656.47,283.42L656.66,283.63L656.86,283.84L657.06,284.05L657.26,284.25L657.46,284.45L657.66,284.65L657.86,284.84L658.06,285.02L658.26,285.21L658.46,285.39L658.66,285.56L658.86,285.73L659.06,285.9L659.26,286.07L659.46,286.23L659.66,286.39L659.86,286.54L660.05,286.7L660.25,286.84L660.45,286.99L660.65,287.14L660.85,287.28L661.05,287.41L661.25,287.55L661.45,287.68L661.65,287.81L661.85,287.94L662.05,288.07L662.25,288.19L662.45,288.31L662.65,288.43L662.85,288.55L663.05,288.66L663.25,288.77L663.45,288.88L663.64,288.99L663.84,289.1L664.04,289.2L664.24,289.31L664.44,289.41L664.64,289.51L664.84,289.6L665.04,289.7L665.24,289.79L665.44,289.88L665.64,289.97L665.84,290.06L666.04,290.15L666.24,290.24L666.44,290.32L666.64,290.4L666.84,290.49L667.03,290.57L667.23,290.64L667.43,290.72L667.63,290.8L667.83,290.87L668.03,290.95L668.23,291.02L668.43,291.09L668.63,291.16L668.83,291.23L669.03,291.3L669.23,291.36L669.43,291.43L669.63,291.49L669.83,291.56L670.03,291.62L670.23,291.68L670.43,291.74L670.62,291.8L670.82,291.86L671.02,291.92L671.22,291.97L671.42,292.03L671.62,292.08L671.82,292.14L672.02,292.19L672.22,292.24L672.42,292.29L672.62,292.34L672.82,292.39L673.02,292.44L673.22,292.49L673.42,292.54L673.62,292.59L673.82,292.63L674.01,292.68L674.21,292.72L674.41,292.77L674.61,292.81L674.81,292.86L675.01,292.9L675.21,292.94L675.41,292.98L675.61,293.02L675.81,293.06L676.01,293.1L676.21,293.14L676.41,293.18L676.61,293.22L676.81,293.25L677.01,293.29L677.21,293.33L677.41,293.36L677.6,293.4L677.8,293.43L678,293.47L678.2,293.5L678.4,293.53L678.6,293.57L678.8,293.6L679,293.63L679.2,293.66" fill="none" stroke="#f47fc0" stroke-width="1" stroke-linejoin="round" />
<path d="M539.6,296.69L539.8,296.69L540,296.69L540.2,296.69L540.4,296.69L540.6,296.69L540.8,296.69L541,296.69L541.2,296.69L541.39,296.69L541.59,296.69L541.79,296.68L541.99,296.68L542.19,296.68L542.39,296.68L542.59,296.68L542.79,296.68L542.99,296.68L543.19,296.68L543.39,296.68L543.59,296.68L543.79,296.68L543.99,296.67L544.19,296.67L544.39,296.67L544.59,296.67L544.79,296.67L544.98,296.67L545.18,296.67L545.38,296.67L545.58,296.67L545.78,296.67L545.98,296.66L546.18,296.66L546.38,296.66L546.58,296.66L546.78,296.66L546.98,296.66L547.18,296.66L547.38,296.66L547.58,296.66L547.78,296.65L547.98,296.65L548.18,296.65L548.37,296.65L548.57,296.65L548.77,296.65L548.97,296.65L549.17,296.65L549.37,296.64L549.57,296.64L549.77,296.64L549.97,296.64L550.17,296.64L550.37,296.64L550.57,296.64L550.77,296.64L550.97,296.63L551.17,296.63L551.37,296.63L551.57,296.63L551.77,296.63L551.96,296.63L552.16,296.63L552.36,296.62L552.56,296.62L552.76,296.62L552.96,296.62L553.16,296.62L553.36,296.62L553.56,296.62L553.76,296.61L553.96,296.61L554.16,296.61L554.36,296.61L554.56,296.61L554.76,296.61L554.96,296.6L555.16,296.6L555.35,296.6L555.55,296.6L555.75,296.6L555.95,296.59L556.15,296.59L556.35,296.59L556.55,296.59L556.75,296.59L556.95,296.59L557.15,296.58L557.35,296.58L557.55,296.58L557.75,296.58L557.95,296.58L558.15,296.57L558.35,296.57L558.55,296.57L558.75,296.57L558.94,296.57L559.14,296.56L559.34,296.56L559.54,296.56L559.74,296.56L559.94,296.55L560.14,296.55L560.34,296.55L560.54,296.55L560.74,296.55L560.94,296.54L561.14,296.54L561.34,296.54L561.54,296.54L561.74,296.53L561.94,296.53L562.14,296.53L562.33,296.53L562.53,296.52L562.73,296.52L562.93,296.52L563.13,296.51L563.33,296.51L563.53,296.51L563.73,296.51L563.93,296.5L564.13,296.5L564.33,296.5L564.53,296.49L564.73,296.49L564.93,296.49L565.13,296.49L565.33,296.48L565.53,296.48L565.73,296.48L565.92,296.47L566.12,296.47L566.32,296.47L566.52,296.46L566.72,296.46L566.92,296.46L567.12,296.45L567.32,296.45L567.52,296.45L567.72,296.44L567.92,296.44L568.12,296.43L568.32,296.43L568.52,296.43L568.72,296.42L568.92,296.42L569.12,296.42L569.31,296.41L569.51,296.41L569.71,296.4L569.91,296.4L570.11,296.4L570.31,296.39L570.51,296.39L570.71,296.38L570.91,296.38L571.11,296.37L571.31,296.37L571.51,296.36L571.71,296.36L571.91,296.35L572.11,296.35L572.31,296.34L572.51,296.34L572.71,296.33L572.9,296.33L573.1,296.32L573.3,296.32L573.5,296.31L573.7,296.31L573.9,296.3L574.1,296.3L574.3,296.29L574.5,296.29L574.7,296.28L574.9,296.27L575.1,296.27L575.3,296.26L575.5,296.26L575.7,296.25L575.9,296.24L576.1,296.24L576.29,296.23L576.49,296.22L576.69,296.22L576.89,296.21L577.09,296.2L577.29,296.2L577.49,296.19L577.69,296.18L577.89,296.18L578.09,296.17L578.29,296.16L578.49,296.15L578.69,296.14L578.89,296.14L579.09,296.13L579.29,296.12L579.49,296.11L579.69,296.1L579.88,296.1L580.08,296.09L580.28,296.08L580.48,296.07L580.68,296.06L580.88,296.05L581.08,296.04L581.28,296.03L581.48,296.02L581.68,296.01L581.88,296L582.08,295.99L582.28,295.98L582.48,295.97L582.68,295.96L582.88,295.95L583.08,295.94L583.27,295.93L583.47,295.92L583.67,295.91L583.87,295.89L584.07,295.88L584.27,295.87L584.47,295.86L584.67,295.85L584.87,295.83L585.07,295.82L585.27,295.81L585.47,295.79L585.67,295.78L585.87,295.77L586.07,295.75L586.27,295.74L586.47,295.72L586.67,295.71L586.86,295.69L587.06,295.68L587.26,295.66L587.46,295.65L587.66,295.63L587.86,295.62L588.06,295.6L588.26,295.58L588.46,295.57L588.66,295.55L588.86,295.53L589.06,295.51L589.26,295.49L589.46,295.48L589.66,295.46L589.86,295.44L590.06,295.42L590.25,295.4L590.45,295.38L590.65,295.36L590.85,295.33L591.05,295.31L591.25,295.29L591.45,295.27L591.65,295.24L591.85,295.22L592.05,295.2L592.25,295.17L592.45,295.15L592.65,295.12L592.85,295.1L593.05,295.07L593.25,295.05L593.45,295.02L593.65,294.99L593.84,294.96L594.04,294.93L594.24,294.9L594.44,294.87L594.64,294.84L594.84,294.81L595.04,294.78L595.24,294.75L595.44,294.72L595.64,294.68L595.84,294.65L596.04,294.61L596.24,294.58L596.44,294.54L596.64,294.5L596.84,294.47L597.04,294.43L597.23,294.39L597.43,294.35L597.63,294.31L597.83,294.27L598.03,294.22L598.23,294.18L598.43,294.13L598.63,294.09L598.83,294.04L599.03,293.99L599.23,293.95L599.43,293.9L599.63,293.85L599.83,293.79L600.03,293.74L600.23,293.69L600.43,293.63L600.63,293.57L600.82,293.52L601.02,293.46L601.22,293.4L601.42,293.34L601.62,293.27L601.82,293.21L602.02,293.14L602.22,293.08L602.42,293.01L602.62,292.94L602.82,292.86L603.02,292.79L603.22,292.72L603.42,292.64L603.62,292.56L603.82,292.48L604.02,292.4L604.21,292.31L604.41,292.23L604.61,292.14L604.81,292.05L605.01,291.95L605.21,291.86L605.41,291.76L605.61,291.66L605.81,291.56L606.01,291.45L606.21,291.35L606.41,291.24L606.61,291.13L606.81,291.01L607.01,290.89L607.21,290.77L607.41,290.65L607.61,290.52L607.8,290.39L608,290.26L608.2,290.12L608.4,289.98L608.6,289.84L608.8,289.69L609,289.54L609.2,289.38L609.4,289.23L609.6,289.06L609.8,288.9L610,288.72L610.2,288.55L610.4,288.37L610.6,288.18L610.8,287.99L611,287.8L611.19,287.6L611.39,287.39L611.59,287.18L611.79,286.97L611.99,286.75L612.19,286.52L612.39,286.28L612.59,286.04L612.79,285.8L612.99,285.54L613.19,285.28L613.39,285.02L613.59,284.74L613.79,284.46L613.99,284.17L614.19,283.88L614.39,283.57L614.59,283.26L614.78,282.94L614.98,282.61L615.18,282.27L615.38,281.92L615.58,281.56L615.78,281.19L615.98,280.82L616.18,280.43L616.38,280.03L616.58,279.62L616.78,279.2L616.98,278.77L617.18,278.32L617.38,277.87L617.58,277.4L617.78,276.92L617.98,276.42L618.17,275.91L618.37,275.39L618.57,274.86L618.77,274.31L618.97,273.74L619.17,273.16L619.37,272.57L619.57,271.96L619.77,271.33L619.97,270.69L620.17,270.03L620.37,269.35L620.57,268.66L620.77,267.94L620.97,267.21L621.17,266.46L621.37,265.7L621.57,264.91L621.76,264.1L621.96,263.28L622.16,262.43L622.36,261.57L622.56,260.68L622.76,259.78L622.96,258.85L623.16,257.9L623.36,256.93L623.56,255.94L623.76,254.93L623.96,253.9L624.16,252.85L624.36,251.77L624.56,250.68L624.76,249.57L624.96,248.43L625.15,247.28L625.35,246.1L625.55,244.91L625.75,243.69L625.95,242.46L626.15,241.22L626.35,239.95L626.55,238.67L626.75,237.38L626.95,236.07L627.15,234.75L627.35,233.41L627.55,232.07L627.75,230.72L627.95,229.36L628.15,227.99L628.35,226.63L628.55,225.26L628.74,223.88L628.94,222.52L629.14,221.15L629.34,219.79L629.54,218.44L629.74,217.11L629.94,215.78L630.14,214.47L630.34,213.18L630.54,211.92L630.74,210.67L630.94,209.46L631.14,208.27L631.34,207.12L631.54,206L631.74,204.92L631.94,203.88L632.13,202.88L632.33,201.94L632.53,201.04L632.73,200.19L632.93,199.4L633.13,198.66L633.33,197.98L633.53,197.37L633.73,196.81L633.93,196.32L634.13,195.9L634.33,195.55L634.53,195.26L634.73,195.04L634.93,194.89L635.13,194.81L635.33,194.81L635.53,194.88L635.72,195.03L635.92,195.25L636.12,195.56L636.32,195.94L636.52,196.39L636.72,196.92L636.92,197.52L637.12,198.18L637.32,198.91L637.52,199.7L637.72,200.56L637.92,201.47L638.12,202.43L638.32,203.44L638.52,204.51L638.72,205.61L638.92,206.75L639.11,207.94L639.31,209.15L639.51,210.39L639.71,211.67L639.91,212.96L640.11,214.27L640.31,215.6L640.51,216.95L640.71,218.3L640.91,219.66L641.11,221.03L641.31,222.4L641.51,223.77L641.71,225.14L641.91,226.51L642.11,227.87L642.31,229.22L642.51,230.56L642.7,231.89L642.9,233.21L643.1,234.52L643.3,235.81L643.5,237.08L643.7,238.34L643.9,239.58L644.1,240.8L644.3,242L644.5,243.18L644.7,244.35L644.9,245.49L645.1,246.61L645.3,247.71L645.5,248.79L645.7,249.85L645.9,250.88L646.09,251.9L646.29,252.89L646.49,253.86L646.69,254.81L646.89,255.74L647.09,256.65L647.29,257.54L647.49,258.41L647.69,259.26L647.89,260.09L648.09,260.9L648.29,261.69L648.49,262.46L648.69,263.22L648.89,263.95L649.09,264.67L649.29,265.37L649.49,266.05L649.68,266.72L649.88,267.37L650.08,268L650.28,268.62L650.48,269.22L650.68,269.81L650.88,270.39L651.08,270.94L651.28,271.49L651.48,272.02L651.68,272.54L651.88,273.05L652.08,273.54L652.28,274.02L652.48,274.49L652.68,274.94L652.88,275.39L653.07,275.82L653.27,276.25L653.47,276.66L653.67,277.07L653.87,277.46L654.07,277.84L654.27,278.22L654.47,278.58L654.67,278.94L654.87,279.29L655.07,279.63L655.27,279.96L655.47,280.28L655.67,280.6L655.87,280.9L656.07,281.2L656.27,281.5L656.47,281.78L656.66,282.06L656.86,282.34L657.06,282.6L657.26,282.86L657.46,283.12L657.66,283.37L657.86,283.61L658.06,283.84L658.26,284.08L658.46,284.3L658.66,284.52L658.86,284.74L659.06,284.95L659.26,285.16L659.46,285.36L659.66,285.56L659.86,285.75L660.05,285.94L660.25,286.12L660.45,286.3L660.65,286.48L660.85,286.65L661.05,286.82L661.25,286.99L661.45,287.15L661.65,287.31L661.85,287.46L662.05,287.61L662.25,287.76L662.45,287.9L662.65,288.05L662.85,288.19L663.05,288.32L663.25,288.46L663.45,288.59L663.64,288.71L663.84,288.84L664.04,288.96L664.24,289.08L664.44,289.2L664.64,289.32L664.84,289.43L665.04,289.54L665.24,289.65L665.44,289.76L665.64,289.86L665.84,289.96L666.04,290.06L666.24,290.16L666.44,290.26L666.64,290.35L666.84,290.45L667.03,290.54L667.23,290.63L667.43,290.71L667.63,290.8L667.83,290.88L668.03,290.97L668.23,291.05L668.43,291.13L668.63,291.21L668.83,291.28L669.03,291.36L669.23,291.43L669.43,291.5L669.63,291.58L669.83,291.65L670.03,291.72L670.23,291.78L670.43,291.85L670.62,291.91L670.82,291.98L671.02,292.04L671.22,292.1L671.42,292.16L671.62,292.22L671.82,292.28L672.02,292.34L672.22,292.4L672.42,292.45L672.62,292.51L672.82,292.56L673.02,292.61L673.22,292.67L673.42,292.72L673.62,292.77L673.82,292.82L674.01,292.87L674.21,292.91L674.41,292.96L674.61,293.01L674.81,293.05L675.01,293.1L675.21,293.14L675.41,293.19L675.61,293.23L675.81,293.27L676.01,293.31L676.21,293.35L676.41,293.39L676.61,293.43L676.81,293.47L677.01,293.51L677.21,293.55L677.41,293.58L677.6,293.62L677.8,293.66L678,293.69L678.2,293.73L678.4,293.76L678.6,293.8L678.8,293.83L679,293.86L679.2,293.89" fill="none" stroke="#f39ccd" stroke-width="1.5" stroke-linejoin="round" />
<path d="M539.6,296.5L539.8,296.5L540,296.5L540.2,296.5L540.4,296.5L540.6,296.5L540.8,296.49L541,296.49L541.2,296.49L541.39,296.49L541.59,296.49L541.79,296.49L541.99,296.48L542.19,296.48L542.39,296.48L542.59,296.48L542.79,296.48L542.99,296.47L543.19,296.47L543.39,296.47L543.59,296.47L543.79,296.47L543.99,296.47L544.19,296.46L544.39,296.46L544.59,296.46L544.79,296.46L544.98,296.46L545.18,296.45L545.38,296.45L545.58,296.45L545.78,296.45L545.98,296.44L546.18,296.44L546.38,296.44L546.58,296.44L546.78,296.44L546.98,296.43L547.18,296.43L547.38,296.43L547.58,296.43L547.78,296.43L547.98,296.42L548.18,296.42L548.37,296.42L548.57,296.42L548.77,296.41L548.97,296.41L549.17,296.41L549.37,296.41L549.57,296.4L549.77,296.4L549.97,296.4L550.17,296.4L550.37,296.39L550.57,296.39L550.77,296.39L550.97,296.39L551.17,296.38L551.37,296.38L551.57,296.38L551.77,296.38L551.96,296.37L552.16,296.37L552.36,296.37L552.56,296.37L552.76,296.36L552.96,296.36L553.16,296.36L553.36,296.35L553.56,296.35L553.76,296.35L553.96,296.35L554.16,296.34L554.36,296.34L554.56,296.34L554.76,296.33L554.96,296.33L555.16,296.33L555.35,296.32L555.55,296.32L555.75,296.32L555.95,296.31L556.15,296.31L556.35,296.31L556.55,296.3L556.75,296.3L556.95,296.3L557.15,296.29L557.35,296.29L557.55,296.29L557.75,296.28L557.95,296.28L558.15,296.28L558.35,296.27L558.55,296.27L558.75,296.27L558.94,296.26L559.14,296.26L559.34,296.26L559.54,296.25L559.74,296.25L559.94,296.24L560.14,296.24L560.34,296.24L560.54,296.23L560.74,296.23L560.94,296.22L561.14,296.22L561.34,296.22L561.54,296.21L561.74,296.21L561.94,296.2L562.14,296.2L562.33,296.2L562.53,296.19L562.73,296.19L562.93,296.18L563.13,296.18L563.33,296.17L563.53,296.17L563.73,296.16L563.93,296.16L564.13,296.15L564.33,296.15L564.53,296.14L564.73,296.14L564.93,296.14L565.13,296.13L565.33,296.13L565.53,296.12L565.73,296.12L565.92,296.11L566.12,296.1L566.32,296.1L566.52,296.09L566.72,296.09L566.92,296.08L567.12,296.08L567.32,296.07L567.52,296.07L567.72,296.06L567.92,296.06L568.12,296.05L568.32,296.04L568.52,296.04L568.72,296.03L568.92,296.03L569.12,296.02L569.31,296.01L569.51,296.01L569.71,296L569.91,296L570.11,295.99L570.31,295.98L570.51,295.98L570.71,295.97L570.91,295.96L571.11,295.96L571.31,295.95L571.51,295.94L571.71,295.94L571.91,295.93L572.11,295.92L572.31,295.92L572.51,295.91L572.71,295.9L572.9,295.89L573.1,295.89L573.3,295.88L573.5,295.87L573.7,295.86L573.9,295.86L574.1,295.85L574.3,295.84L574.5,295.83L574.7,295.82L574.9,295.81L575.1,295.81L575.3,295.8L575.5,295.79L575.7,295.78L575.9,295.77L576.1,295.76L576.29,295.75L576.49,295.75L576.69,295.74L576.89,295.73L577.09,295.72L577.29,295.71L577.49,295.7L577.69,295.69L577.89,295.68L578.09,295.67L578.29,295.66L578.49,295.65L578.69,295.64L578.89,295.63L579.09,295.62L579.29,295.61L579.49,295.6L579.69,295.59L579.88,295.57L580.08,295.56L580.28,295.55L580.48,295.54L580.68,295.53L580.88,295.52L581.08,295.51L581.28,295.49L581.48,295.48L581.68,295.47L581.88,295.46L582.08,295.44L582.28,295.43L582.48,295.42L582.68,295.41L582.88,295.39L583.08,295.38L583.27,295.36L583.47,295.35L583.67,295.34L583.87,295.32L584.07,295.31L584.27,295.29L584.47,295.28L584.67,295.26L584.87,295.25L585.07,295.23L585.27,295.22L585.47,295.2L585.67,295.19L585.87,295.17L586.07,295.15L586.27,295.14L586.47,295.12L586.67,295.1L586.86,295.09L587.06,295.07L587.26,295.05L587.46,295.03L587.66,295.02L587.86,295L588.06,294.98L588.26,294.96L588.46,294.94L588.66,294.92L588.86,294.9L589.06,294.88L589.26,294.86L589.46,294.84L589.66,294.82L589.86,294.8L590.06,294.78L590.25,294.75L590.45,294.73L590.65,294.71L590.85,294.69L591.05,294.66L591.25,294.64L591.45,294.62L591.65,294.59L591.85,294.57L592.05,294.54L592.25,294.52L592.45,294.49L592.65,294.47L592.85,294.44L593.05,294.41L593.25,294.39L593.45,294.36L593.65,294.33L593.84,294.3L594.04,294.27L594.24,294.24L594.44,294.21L594.64,294.18L594.84,294.15L595.04,294.12L595.24,294.09L595.44,294.06L595.64,294.03L595.84,293.99L596.04,293.96L596.24,293.93L596.44,293.89L596.64,293.86L596.84,293.82L597.04,293.78L597.23,293.75L597.43,293.71L597.63,293.67L597.83,293.63L598.03,293.59L598.23,293.55L598.43,293.51L598.63,293.47L598.83,293.43L599.03,293.38L599.23,293.34L599.43,293.3L599.63,293.25L599.83,293.2L600.03,293.16L600.23,293.11L600.43,293.06L600.63,293.01L600.82,292.96L601.02,292.91L601.22,292.86L601.42,292.81L601.62,292.75L601.82,292.7L602.02,292.64L602.22,292.59L602.42,292.53L602.62,292.47L602.82,292.41L603.02,292.35L603.22,292.29L603.42,292.23L603.62,292.16L603.82,292.1L604.02,292.03L604.21,291.96L604.41,291.89L604.61,291.82L604.81,291.75L605.01,291.68L605.21,291.6L605.41,291.53L605.61,291.45L605.81,291.37L606.01,291.29L606.21,291.21L606.41,291.13L606.61,291.04L606.81,290.96L607.01,290.87L607.21,290.78L607.41,290.69L607.61,290.59L607.8,290.5L608,290.4L608.2,290.3L608.4,290.2L608.6,290.1L608.8,289.99L609,289.88L609.2,289.77L609.4,289.66L609.6,289.55L609.8,289.43L610,289.31L610.2,289.19L610.4,289.07L610.6,288.94L610.8,288.81L611,288.68L611.19,288.54L611.39,288.4L611.59,288.26L611.79,288.12L611.99,287.97L612.19,287.82L612.39,287.67L612.59,287.51L612.79,287.35L612.99,287.19L613.19,287.02L613.39,286.85L613.59,286.67L613.79,286.5L613.99,286.31L614.19,286.13L614.39,285.93L614.59,285.74L614.78,285.54L614.98,285.33L615.18,285.13L615.38,284.91L615.58,284.69L615.78,284.47L615.98,284.24L616.18,284L616.38,283.76L616.58,283.52L616.78,283.27L616.98,283.01L617.18,282.75L617.38,282.48L617.58,282.2L617.78,281.92L617.98,281.63L618.17,281.33L618.37,281.03L618.57,280.72L618.77,280.4L618.97,280.07L619.17,279.74L619.37,279.39L619.57,279.04L619.77,278.68L619.97,278.32L620.17,277.94L620.37,277.55L620.57,277.16L620.77,276.75L620.97,276.34L621.17,275.91L621.37,275.47L621.57,275.03L621.76,274.57L621.96,274.1L622.16,273.62L622.36,273.13L622.56,272.62L622.76,272.1L622.96,271.57L623.16,271.03L623.36,270.47L623.56,269.9L623.76,269.32L623.96,268.72L624.16,268.11L624.36,267.48L624.56,266.84L624.76,266.18L624.96,265.51L625.15,264.82L625.35,264.11L625.55,263.39L625.75,262.65L625.95,261.89L626.15,261.11L626.35,260.32L626.55,259.51L626.75,258.68L626.95,257.83L627.15,256.97L627.35,256.08L627.55,255.18L627.75,254.26L627.95,253.32L628.15,252.36L628.35,251.38L628.55,250.38L628.74,249.36L628.94,248.32L629.14,247.26L629.34,246.19L629.54,245.09L629.74,243.98L629.94,242.85L630.14,241.7L630.34,240.54L630.54,239.35L630.74,238.16L630.94,236.94L631.14,235.72L631.34,234.48L631.54,233.22L631.74,231.96L631.94,230.68L632.13,229.4L632.33,228.11L632.53,226.81L632.73,225.5L632.93,224.2L633.13,222.89L633.33,221.59L633.53,220.28L633.73,218.98L633.93,217.69L634.13,216.41L634.33,215.14L634.53,213.88L634.73,212.64L634.93,211.42L635.13,210.22L635.33,209.05L635.53,207.91L635.72,206.79L635.92,205.71L636.12,204.66L636.32,203.65L636.52,202.69L636.72,201.77L636.92,200.89L637.12,200.07L637.32,199.29L637.52,198.58L637.72,197.92L637.92,197.31L638.12,196.77L638.32,196.29L638.52,195.88L638.72,195.53L638.92,195.25L639.11,195.03L639.31,194.89L639.51,194.81L639.71,194.81L639.91,194.88L640.11,195.04L640.31,195.29L640.51,195.61L640.71,196.02L640.91,196.51L641.11,197.07L641.31,197.71L641.51,198.43L641.71,199.21L641.91,200.05L642.11,200.97L642.31,201.94L642.51,202.96L642.7,204.04L642.9,205.17L643.1,206.34L643.3,207.56L643.5,208.81L643.7,210.09L643.9,211.41L644.1,212.75L644.3,214.11L644.5,215.49L644.7,216.89L644.9,218.29L645.1,219.71L645.3,221.14L645.5,222.56L645.7,223.99L645.9,225.41L646.09,226.83L646.29,228.25L646.49,229.65L646.69,231.05L646.89,232.43L647.09,233.8L647.29,235.16L647.49,236.49L647.69,237.81L647.89,239.11L648.09,240.4L648.29,241.66L648.49,242.9L648.69,244.12L648.89,245.32L649.09,246.49L649.29,247.64L649.49,248.77L649.68,249.88L649.88,250.96L650.08,252.02L650.28,253.06L650.48,254.08L650.68,255.07L650.88,256.04L651.08,256.98L651.28,257.91L651.48,258.81L651.68,259.69L651.88,260.55L652.08,261.39L652.28,262.21L652.48,263L652.68,263.78L652.88,264.54L653.07,265.28L653.27,266L653.47,266.7L653.67,267.39L653.87,268.05L654.07,268.7L654.27,269.33L654.47,269.95L654.67,270.55L654.87,271.13L655.07,271.7L655.27,272.26L655.47,272.8L655.67,273.32L655.87,273.84L656.07,274.34L656.27,274.82L656.47,275.3L656.66,275.76L656.86,276.21L657.06,276.65L657.26,277.07L657.46,277.49L657.66,277.89L657.86,278.29L658.06,278.67L658.26,279.05L658.46,279.41L658.66,279.77L658.86,280.11L659.06,280.45L659.26,280.78L659.46,281.1L659.66,281.42L659.86,281.72L660.05,282.02L660.25,282.31L660.45,282.59L660.65,282.87L660.85,283.14L661.05,283.4L661.25,283.66L661.45,283.91L661.65,284.15L661.85,284.39L662.05,284.62L662.25,284.85L662.45,285.07L662.65,285.29L662.85,285.5L663.05,285.71L663.25,285.91L663.45,286.11L663.64,286.3L663.84,286.49L664.04,286.67L664.24,286.85L664.44,287.02L664.64,287.19L664.84,287.36L665.04,287.53L665.24,287.69L665.44,287.84L665.64,287.99L665.84,288.14L666.04,288.29L666.24,288.43L666.44,288.57L666.64,288.71L666.84,288.84L667.03,288.97L667.23,289.1L667.43,289.23L667.63,289.35L667.83,289.47L668.03,289.59L668.23,289.7L668.43,289.82L668.63,289.93L668.83,290.03L669.03,290.14L669.23,290.24L669.43,290.35L669.63,290.45L669.83,290.54L670.03,290.64L670.23,290.73L670.43,290.82L670.62,290.91L670.82,291L671.02,291.09L671.22,291.17L671.42,291.26L671.62,291.34L671.82,291.42L672.02,291.49L672.22,291.57L672.42,291.65L672.62,291.72L672.82,291.79L673.02,291.86L673.22,291.93L673.42,292L673.62,292.07L673.82,292.14L674.01,292.2L674.21,292.26L674.41,292.33L674.61,292.39L674.81,292.45L675.01,292.51L675.21,292.56L675.41,292.62L675.61,292.68L675.81,292.73L676.01,292.79L676.21,292.84L676.41,292.89L676.61,292.94L676.81,292.99L677.01,293.04L677.21,293.09L677.41,293.14L677.6,293.18L677.8,293.23L678,293.27L678.2,293.32L678.4,293.36L678.6,293.41L678.8,293.45L679,293.49L679.2,293.53" fill="none" stroke="#e5259a" stroke-width="1.3" stroke-linejoin="round" />
<line x1="539.6" y1="296.8" x2="539.6" y2="299" stroke="#333" stroke-width="0.7"/>
<line x1="559.54" y1="296.8" x2="559.54" y2="299" stroke="#333" stroke-width="0.7"/>
<line x1="579.49" y1="296.8" x2="579.49" y2="299" stroke="#333" stroke-width="0.7"/>
<line x1="599.43" y1="296.8" x2="599.43" y2="299" stroke="#333" stroke-width="0.7"/>
<line x1="619.37" y1="296.8" x2="619.37" y2="299" stroke="#333" stroke-width="0.7"/>
<line x1="639.31" y1="296.8" x2="639.31" y2="299" stroke="#333" stroke-width="0.7"/>
<line x1="659.26" y1="296.8" x2="659.26" y2="299" stroke="#333" stroke-width="0.7"/>
<line x1="679.2" y1="296.8" x2="679.2" y2="299" stroke="#333" stroke-width="0.7"/>
<line x1="549.57" y1="296.8" x2="549.57" y2="298.2" stroke="#333" stroke-width="0.7"/>
<line x1="569.51" y1="296.8" x2="569.51" y2="298.2" stroke="#333" stroke-width="0.7"/>
<line x1="589.46" y1="296.8" x2="589.46" y2="298.2" stroke="#333" stroke-width="0.7"/>
<line x1="609.4" y1="296.8" x2="609.4" y2="298.2" stroke="#333" stroke-width="0.7"/>
<line x1="629.34" y1="296.8" x2="629.34" y2="298.2" stroke="#333" stroke-width="0.7"/>
<line x1="649.29" y1="296.8" x2="649.29" y2="298.2" stroke="#333" stroke-width="0.7"/>
<line x1="669.23" y1="296.8" x2="669.23" y2="298.2" stroke="#333" stroke-width="0.7"/>
<line x1="539.6" y1="296.8" x2="537.4" y2="296.8" stroke="#333" stroke-width="0.7"/>
<line x1="539.6" y1="276.4" x2="537.4" y2="276.4" stroke="#333" stroke-width="0.7"/>
<line x1="539.6" y1="256" x2="537.4" y2="256" stroke="#333" stroke-width="0.7"/>
<line x1="539.6" y1="235.6" x2="537.4" y2="235.6" stroke="#333" stroke-width="0.7"/>
<line x1="539.6" y1="215.2" x2="537.4" y2="215.2" stroke="#333" stroke-width="0.7"/>
<line x1="539.6" y1="194.8" x2="537.4" y2="194.8" stroke="#333" stroke-width="0.7"/>
<line x1="539.6" y1="286.6" x2="538.2" y2="286.6" stroke="#333" stroke-width="0.7"/>
<line x1="539.6" y1="266.2" x2="538.2" y2="266.2" stroke="#333" stroke-width="0.7"/>
<line x1="539.6" y1="245.8" x2="538.2" y2="245.8" stroke="#333" stroke-width="0.7"/>
<line x1="539.6" y1="225.4" x2="538.2" y2="225.4" stroke="#333" stroke-width="0.7"/>
<line x1="539.6" y1="205" x2="538.2" y2="205" stroke="#333" stroke-width="0.7"/>
<text x="536" y="298.8" font-size="7.6" text-anchor="end" fill="#000" >0.0</text>
<text x="536" y="278.4" font-size="7.6" text-anchor="end" fill="#000" >0.2</text>
<text x="536" y="258" font-size="7.6" text-anchor="end" fill="#000" >0.4</text>
<text x="536" y="237.6" font-size="7.6" text-anchor="end" fill="#000" >0.6</text>
<text x="536" y="217.2" font-size="7.6" text-anchor="end" fill="#000" >0.8</text>
<text x="536" y="196.8" font-size="7.6" text-anchor="end" fill="#000" >1.0</text>
<text x="539.6" y="307" font-size="7.6" text-anchor="middle" fill="#000" >500</text>
<text x="559.54" y="307" font-size="7.6" text-anchor="middle" fill="#000" >550</text>
<text x="579.49" y="307" font-size="7.6" text-anchor="middle" fill="#000" >600</text>
<text x="599.43" y="307" font-size="7.6" text-anchor="middle" fill="#000" >650</text>
<text x="619.37" y="307" font-size="7.6" text-anchor="middle" fill="#000" >700</text>
<text x="639.31" y="307" font-size="7.6" text-anchor="middle" fill="#000" >750</text>
<text x="659.26" y="307" font-size="7.6" text-anchor="middle" fill="#000" >800</text>
<text x="679.2" y="307" font-size="7.6" text-anchor="middle" fill="#000" >850</text>
<text x="609.5" y="318.3" font-size="7.5" text-anchor="middle" fill="#000" >Wavelength (nm)</text>
<text transform="translate(519.3,240) rotate(-90)" font-size="7.5" text-anchor="middle">Normalized EL intensity (a.u.)</text>
<line x1="543.8" y1="190.9" x2="557.5" y2="190.9" stroke="#f9c4de" stroke-width="1"/>
<text x="559.0" y="193.2" font-size="6.6" textLength="36.0" lengthAdjust="spacingAndGlyphs"><tspan font-size="7.3">&#955;</tspan><tspan font-size="4.6" dy="1.5">peak</tspan><tspan dy="-1.5">: 720 nm</tspan></text>
<line x1="543.8" y1="200.6" x2="557.5" y2="200.6" stroke="#f47fc0" stroke-width="1"/>
<text x="559.0" y="202.9" font-size="6.6" textLength="36.0" lengthAdjust="spacingAndGlyphs"><tspan font-size="7.3">&#955;</tspan><tspan font-size="4.6" dy="1.5">peak</tspan><tspan dy="-1.5">: 730 nm</tspan></text>
<line x1="543.8" y1="210" x2="557.5" y2="210" stroke="#f39ccd" stroke-width="1.5"/>
<text x="559.0" y="212.3" font-size="6.6" textLength="36.0" lengthAdjust="spacingAndGlyphs"><tspan font-size="7.3">&#955;</tspan><tspan font-size="4.6" dy="1.5">peak</tspan><tspan dy="-1.5">: 740 nm</tspan></text>
<line x1="543.8" y1="219.4" x2="557.5" y2="219.4" stroke="#e5259a" stroke-width="1.3"/>
<text x="559.0" y="221.7" font-size="6.6" textLength="36.0" lengthAdjust="spacingAndGlyphs"><tspan font-size="7.3">&#955;</tspan><tspan font-size="4.6" dy="1.5">peak</tspan><tspan dy="-1.5">: 750 nm</tspan></text>
</svg>
</body></html>
